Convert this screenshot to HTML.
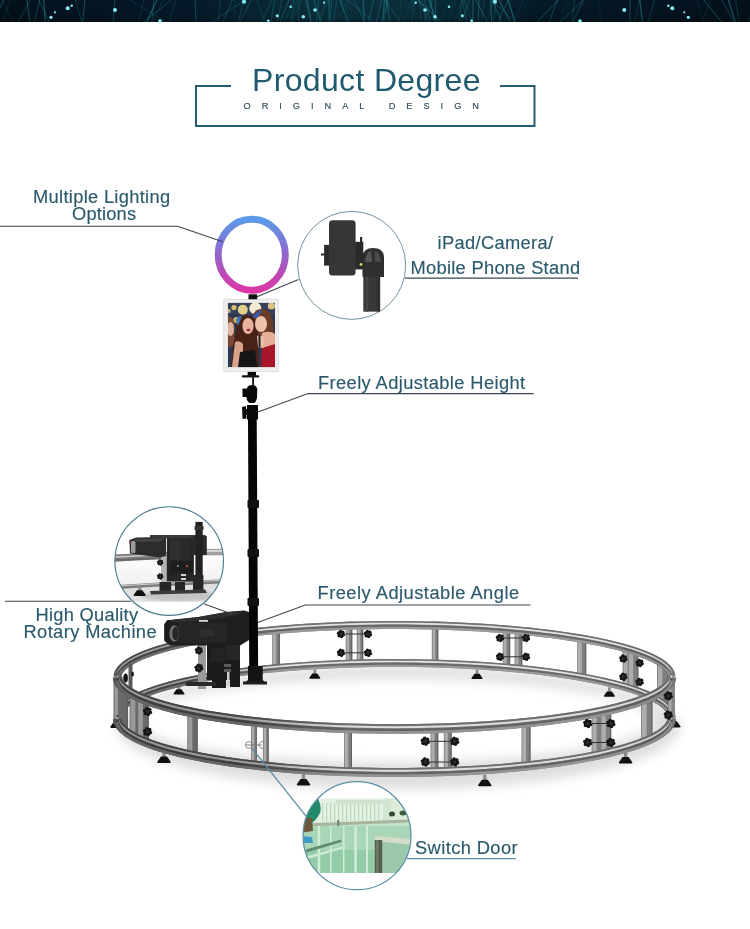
<!DOCTYPE html>
<html><head><meta charset="utf-8"><title>Product Degree</title>
<style>
html,body{margin:0;padding:0;background:#fff;}
body{width:750px;height:929px;overflow:hidden;position:relative;}
svg{position:absolute;left:0;top:0;display:block;}
text{font-family:"Liberation Sans",sans-serif;}
svg{will-change:transform;}
</style></head><body>
<svg width="750" height="929" viewBox="0 0 750 929">
<defs>
<linearGradient id="ringg" x1="0" y1="0" x2="0" y2="1">
<stop offset="0" stop-color="#5a9ae6"/><stop offset="0.45" stop-color="#8d6ad0"/><stop offset="1" stop-color="#dc35a6"/>
</linearGradient>
<linearGradient id="banh" x1="0" y1="0" x2="1" y2="0">
<stop offset="0" stop-color="#03111c"/><stop offset="0.25" stop-color="#05192a"/><stop offset="0.42" stop-color="#0a2f3c"/><stop offset="0.55" stop-color="#0a2f3c"/><stop offset="0.72" stop-color="#051a28"/><stop offset="1" stop-color="#03101b"/>
</linearGradient>
<linearGradient id="banv" x1="0" y1="0" x2="0" y2="1">
<stop offset="0" stop-color="#000" stop-opacity="0"/><stop offset="0.8" stop-color="#000" stop-opacity="0.1"/><stop offset="1" stop-color="#000" stop-opacity="0.35"/>
</linearGradient>
<filter id="blur6" x="-20%" y="-50%" width="140%" height="200%"><feGaussianBlur stdDeviation="6"/></filter>
<filter id="blur2"><feGaussianBlur stdDeviation="1.2"/></filter>
<filter id="blur05" x="-5%" y="-5%" width="110%" height="110%"><feGaussianBlur stdDeviation="0.55"/></filter>
<clipPath id="c1"><circle cx="351.7" cy="265.4" r="54"/></clipPath>
<clipPath id="c2"><circle cx="169.2" cy="561.1" r="54.3"/></clipPath>
<clipPath id="c3"><circle cx="357" cy="835.7" r="54"/></clipPath>
<linearGradient id="doorg" x1="0" y1="0" x2="0" y2="1">
<stop offset="0" stop-color="#e6f3e6"/><stop offset="0.45" stop-color="#b9dcc4"/><stop offset="1" stop-color="#8cc4a0"/>
</linearGradient>
</defs>
<rect width="750" height="929" fill="#fff"/>

<defs><linearGradient id="rgb0" gradientUnits="userSpaceOnUse" x1="110" y1="0" x2="680" y2="0"><stop offset="0" stop-color="#5c5c5c"/><stop offset="0.14" stop-color="#5c5c5c"/><stop offset="0.3" stop-color="#858585"/><stop offset="0.85" stop-color="#858585"/><stop offset="1" stop-color="#767676"/></linearGradient><linearGradient id="rgb1" gradientUnits="userSpaceOnUse" x1="110" y1="0" x2="680" y2="0"><stop offset="0" stop-color="#4a4a4a"/><stop offset="0.14" stop-color="#4a4a4a"/><stop offset="0.3" stop-color="#707070"/><stop offset="0.85" stop-color="#707070"/><stop offset="1" stop-color="#666666"/></linearGradient><linearGradient id="rgb2" gradientUnits="userSpaceOnUse" x1="110" y1="0" x2="680" y2="0"><stop offset="0" stop-color="#a0a0a0"/><stop offset="0.14" stop-color="#a0a0a0"/><stop offset="0.3" stop-color="#e4e4e4"/><stop offset="0.85" stop-color="#e4e4e4"/><stop offset="1" stop-color="#cccccc"/></linearGradient><linearGradient id="rgb3" gradientUnits="userSpaceOnUse" x1="110" y1="0" x2="680" y2="0"><stop offset="0" stop-color="#444444"/><stop offset="0.14" stop-color="#444444"/><stop offset="0.3" stop-color="#686868"/><stop offset="0.85" stop-color="#686868"/><stop offset="1" stop-color="#5c5c5c"/></linearGradient><linearGradient id="rgb4" gradientUnits="userSpaceOnUse" x1="110" y1="0" x2="680" y2="0"><stop offset="0" stop-color="#6e6e6e"/><stop offset="0.14" stop-color="#6e6e6e"/><stop offset="0.3" stop-color="#9a9a9a"/><stop offset="0.85" stop-color="#9a9a9a"/><stop offset="1" stop-color="#8a8a8a"/></linearGradient><linearGradient id="rgf0" gradientUnits="userSpaceOnUse" x1="110" y1="0" x2="680" y2="0"><stop offset="0" stop-color="#555555"/><stop offset="0.22" stop-color="#555555"/><stop offset="0.42" stop-color="#808080"/><stop offset="0.85" stop-color="#808080"/><stop offset="1" stop-color="#727272"/></linearGradient><linearGradient id="rgf1" gradientUnits="userSpaceOnUse" x1="110" y1="0" x2="680" y2="0"><stop offset="0" stop-color="#454545"/><stop offset="0.22" stop-color="#454545"/><stop offset="0.42" stop-color="#6e6e6e"/><stop offset="0.85" stop-color="#6e6e6e"/><stop offset="1" stop-color="#626262"/></linearGradient><linearGradient id="rgf2" gradientUnits="userSpaceOnUse" x1="110" y1="0" x2="680" y2="0"><stop offset="0" stop-color="#9a9a9a"/><stop offset="0.22" stop-color="#9a9a9a"/><stop offset="0.42" stop-color="#dedede"/><stop offset="0.85" stop-color="#dedede"/><stop offset="1" stop-color="#c8c8c8"/></linearGradient><linearGradient id="rgf3" gradientUnits="userSpaceOnUse" x1="110" y1="0" x2="680" y2="0"><stop offset="0" stop-color="#3e3e3e"/><stop offset="0.22" stop-color="#3e3e3e"/><stop offset="0.42" stop-color="#646464"/><stop offset="0.85" stop-color="#646464"/><stop offset="1" stop-color="#585858"/></linearGradient><linearGradient id="rgf4" gradientUnits="userSpaceOnUse" x1="110" y1="0" x2="680" y2="0"><stop offset="0" stop-color="#666666"/><stop offset="0.22" stop-color="#666666"/><stop offset="0.42" stop-color="#949494"/><stop offset="0.85" stop-color="#949494"/><stop offset="1" stop-color="#868686"/></linearGradient></defs>
<rect x="0" y="0" width="750" height="22" fill="url(#banh)"/>
<g><line x1="232.3" y1="0" x2="222.7" y2="22" stroke="#37c3c8" stroke-width="1.0" stroke-opacity="0.26"/><line x1="143.9" y1="0" x2="138.3" y2="22" stroke="#37c3c8" stroke-width="0.6" stroke-opacity="0.27"/><line x1="639.8" y1="0" x2="642.4" y2="22" stroke="#37c3c8" stroke-width="1.3" stroke-opacity="0.38"/><line x1="10.2" y1="0" x2="2.1" y2="22" stroke="#37c3c8" stroke-width="0.6" stroke-opacity="0.23"/><line x1="432.4" y1="0" x2="423.6" y2="22" stroke="#37c3c8" stroke-width="0.8" stroke-opacity="0.27"/><line x1="271.6" y1="0" x2="261.7" y2="22" stroke="#37c3c8" stroke-width="1.3" stroke-opacity="0.16"/><line x1="171.2" y1="0" x2="143.7" y2="22" stroke="#37c3c8" stroke-width="1.3" stroke-opacity="0.19"/><line x1="583.3" y1="0" x2="572.9" y2="22" stroke="#37c3c8" stroke-width="1.0" stroke-opacity="0.30"/><line x1="245.5" y1="0" x2="251.9" y2="22" stroke="#37c3c8" stroke-width="0.6" stroke-opacity="0.12"/><line x1="508.0" y1="0" x2="515.0" y2="22" stroke="#37c3c8" stroke-width="1.3" stroke-opacity="0.40"/><line x1="511.6" y1="0" x2="504.4" y2="22" stroke="#37c3c8" stroke-width="0.6" stroke-opacity="0.14"/><line x1="195.0" y1="0" x2="196.1" y2="22" stroke="#37c3c8" stroke-width="1.0" stroke-opacity="0.31"/><line x1="523.0" y1="0" x2="513.7" y2="22" stroke="#37c3c8" stroke-width="0.8" stroke-opacity="0.15"/><line x1="463.9" y1="0" x2="471.8" y2="22" stroke="#37c3c8" stroke-width="0.6" stroke-opacity="0.39"/><line x1="339.9" y1="0" x2="348.7" y2="22" stroke="#37c3c8" stroke-width="1.3" stroke-opacity="0.27"/><line x1="293.2" y1="0" x2="283.3" y2="22" stroke="#37c3c8" stroke-width="0.8" stroke-opacity="0.12"/><line x1="326.9" y1="0" x2="318.1" y2="22" stroke="#37c3c8" stroke-width="0.6" stroke-opacity="0.27"/><line x1="27.0" y1="0" x2="29.8" y2="22" stroke="#37c3c8" stroke-width="1.0" stroke-opacity="0.39"/><line x1="354.1" y1="0" x2="364.9" y2="22" stroke="#37c3c8" stroke-width="1.0" stroke-opacity="0.24"/><line x1="39.6" y1="0" x2="34.5" y2="22" stroke="#37c3c8" stroke-width="0.8" stroke-opacity="0.35"/><line x1="388.2" y1="0" x2="381.6" y2="22" stroke="#37c3c8" stroke-width="0.6" stroke-opacity="0.31"/><line x1="490.8" y1="0" x2="491.6" y2="22" stroke="#37c3c8" stroke-width="1.0" stroke-opacity="0.37"/><line x1="569.3" y1="0" x2="566.2" y2="22" stroke="#37c3c8" stroke-width="0.6" stroke-opacity="0.11"/><line x1="759.4" y1="0" x2="758.7" y2="22" stroke="#37c3c8" stroke-width="1.3" stroke-opacity="0.20"/><line x1="557.1" y1="0" x2="549.4" y2="22" stroke="#37c3c8" stroke-width="0.8" stroke-opacity="0.37"/><line x1="465.4" y1="0" x2="475.2" y2="22" stroke="#37c3c8" stroke-width="0.8" stroke-opacity="0.15"/><line x1="558.4" y1="0" x2="537.0" y2="22" stroke="#37c3c8" stroke-width="0.8" stroke-opacity="0.40"/><line x1="639.2" y1="0" x2="634.8" y2="22" stroke="#37c3c8" stroke-width="1.0" stroke-opacity="0.17"/><line x1="256.6" y1="0" x2="265.6" y2="22" stroke="#37c3c8" stroke-width="0.8" stroke-opacity="0.23"/><line x1="400.8" y1="0" x2="399.5" y2="22" stroke="#37c3c8" stroke-width="0.6" stroke-opacity="0.15"/><line x1="598.6" y1="0" x2="601.1" y2="22" stroke="#37c3c8" stroke-width="0.6" stroke-opacity="0.14"/><line x1="419.9" y1="0" x2="421.2" y2="22" stroke="#37c3c8" stroke-width="1.0" stroke-opacity="0.17"/><line x1="4.2" y1="0" x2="-6.5" y2="22" stroke="#37c3c8" stroke-width="0.6" stroke-opacity="0.37"/><line x1="329.0" y1="0" x2="329.3" y2="22" stroke="#37c3c8" stroke-width="1.3" stroke-opacity="0.31"/><line x1="381.6" y1="0" x2="376.2" y2="22" stroke="#37c3c8" stroke-width="1.0" stroke-opacity="0.26"/><line x1="307.5" y1="0" x2="311.1" y2="22" stroke="#37c3c8" stroke-width="0.8" stroke-opacity="0.23"/><line x1="696.6" y1="0" x2="704.3" y2="22" stroke="#37c3c8" stroke-width="0.8" stroke-opacity="0.14"/><line x1="753.7" y1="0" x2="748.9" y2="22" stroke="#37c3c8" stroke-width="0.8" stroke-opacity="0.25"/><line x1="387.6" y1="0" x2="383.8" y2="22" stroke="#37c3c8" stroke-width="0.6" stroke-opacity="0.32"/><line x1="243.8" y1="0" x2="238.3" y2="22" stroke="#37c3c8" stroke-width="1.0" stroke-opacity="0.26"/><line x1="384.9" y1="0" x2="400.4" y2="22" stroke="#37c3c8" stroke-width="0.6" stroke-opacity="0.39"/><line x1="703.8" y1="0" x2="721.6" y2="22" stroke="#37c3c8" stroke-width="1.0" stroke-opacity="0.35"/><line x1="298.8" y1="0" x2="298.7" y2="22" stroke="#37c3c8" stroke-width="1.0" stroke-opacity="0.20"/><line x1="314.5" y1="0" x2="320.9" y2="22" stroke="#37c3c8" stroke-width="0.6" stroke-opacity="0.34"/><line x1="462.6" y1="0" x2="454.3" y2="22" stroke="#37c3c8" stroke-width="1.3" stroke-opacity="0.10"/><line x1="163.1" y1="0" x2="153.0" y2="22" stroke="#37c3c8" stroke-width="1.0" stroke-opacity="0.16"/><line x1="479.2" y1="0" x2="478.1" y2="22" stroke="#37c3c8" stroke-width="1.0" stroke-opacity="0.30"/><line x1="251.1" y1="0" x2="240.0" y2="22" stroke="#37c3c8" stroke-width="0.8" stroke-opacity="0.32"/><line x1="386.5" y1="0" x2="389.9" y2="22" stroke="#37c3c8" stroke-width="1.3" stroke-opacity="0.30"/><line x1="412.2" y1="0" x2="402.7" y2="22" stroke="#37c3c8" stroke-width="0.8" stroke-opacity="0.16"/><line x1="297.8" y1="0" x2="289.7" y2="22" stroke="#37c3c8" stroke-width="1.0" stroke-opacity="0.12"/><line x1="318.9" y1="0" x2="316.4" y2="22" stroke="#37c3c8" stroke-width="1.0" stroke-opacity="0.25"/><line x1="455.0" y1="0" x2="448.2" y2="22" stroke="#37c3c8" stroke-width="0.6" stroke-opacity="0.18"/><line x1="220.7" y1="0" x2="218.2" y2="22" stroke="#37c3c8" stroke-width="0.8" stroke-opacity="0.24"/><line x1="289.1" y1="0" x2="279.9" y2="22" stroke="#37c3c8" stroke-width="0.8" stroke-opacity="0.39"/><line x1="491.0" y1="0" x2="515.5" y2="22" stroke="#37c3c8" stroke-width="0.8" stroke-opacity="0.29"/><line x1="430.5" y1="0" x2="434.4" y2="22" stroke="#37c3c8" stroke-width="0.8" stroke-opacity="0.34"/><line x1="38.9" y1="0" x2="49.3" y2="22" stroke="#37c3c8" stroke-width="1.3" stroke-opacity="0.21"/><line x1="422.4" y1="0" x2="426.2" y2="22" stroke="#37c3c8" stroke-width="0.6" stroke-opacity="0.25"/><line x1="340.1" y1="0" x2="365.3" y2="22" stroke="#37c3c8" stroke-width="0.6" stroke-opacity="0.13"/><line x1="342.9" y1="0" x2="352.0" y2="22" stroke="#37c3c8" stroke-width="0.6" stroke-opacity="0.19"/><line x1="469.7" y1="0" x2="462.0" y2="22" stroke="#37c3c8" stroke-width="1.0" stroke-opacity="0.18"/><line x1="473.1" y1="0" x2="472.8" y2="22" stroke="#37c3c8" stroke-width="0.6" stroke-opacity="0.39"/><line x1="346.4" y1="0" x2="355.1" y2="22" stroke="#37c3c8" stroke-width="0.6" stroke-opacity="0.16"/><line x1="728.4" y1="0" x2="735.3" y2="22" stroke="#37c3c8" stroke-width="1.3" stroke-opacity="0.39"/><line x1="30.4" y1="0" x2="18.3" y2="22" stroke="#37c3c8" stroke-width="1.0" stroke-opacity="0.21"/><line x1="363.8" y1="0" x2="363.6" y2="22" stroke="#37c3c8" stroke-width="1.0" stroke-opacity="0.24"/><line x1="274.6" y1="0" x2="270.9" y2="22" stroke="#37c3c8" stroke-width="1.3" stroke-opacity="0.20"/><line x1="447.2" y1="0" x2="442.4" y2="22" stroke="#37c3c8" stroke-width="0.6" stroke-opacity="0.11"/><line x1="484.3" y1="0" x2="481.4" y2="22" stroke="#37c3c8" stroke-width="1.0" stroke-opacity="0.19"/><line x1="418.9" y1="0" x2="428.6" y2="22" stroke="#37c3c8" stroke-width="0.8" stroke-opacity="0.22"/><line x1="492.0" y1="0" x2="501.6" y2="22" stroke="#37c3c8" stroke-width="1.3" stroke-opacity="0.14"/><line x1="306.0" y1="0" x2="311.2" y2="22" stroke="#37c3c8" stroke-width="1.3" stroke-opacity="0.30"/><line x1="501.4" y1="0" x2="499.1" y2="22" stroke="#37c3c8" stroke-width="0.8" stroke-opacity="0.15"/><line x1="336.9" y1="0" x2="333.5" y2="22" stroke="#37c3c8" stroke-width="0.8" stroke-opacity="0.26"/><line x1="43.8" y1="0" x2="45.3" y2="22" stroke="#37c3c8" stroke-width="1.3" stroke-opacity="0.37"/><line x1="435.2" y1="0" x2="435.8" y2="22" stroke="#37c3c8" stroke-width="0.8" stroke-opacity="0.34"/><line x1="281.5" y1="0" x2="277.5" y2="22" stroke="#37c3c8" stroke-width="0.6" stroke-opacity="0.34"/><line x1="349.2" y1="0" x2="334.6" y2="22" stroke="#37c3c8" stroke-width="0.6" stroke-opacity="0.15"/><line x1="340.4" y1="0" x2="346.5" y2="22" stroke="#37c3c8" stroke-width="0.6" stroke-opacity="0.17"/><line x1="492.9" y1="0" x2="487.5" y2="22" stroke="#37c3c8" stroke-width="0.6" stroke-opacity="0.29"/><line x1="734.3" y1="0" x2="740.5" y2="22" stroke="#37c3c8" stroke-width="1.0" stroke-opacity="0.10"/><line x1="413.1" y1="0" x2="416.2" y2="22" stroke="#37c3c8" stroke-width="0.8" stroke-opacity="0.12"/><line x1="373.6" y1="0" x2="368.4" y2="22" stroke="#37c3c8" stroke-width="1.0" stroke-opacity="0.30"/><line x1="153.7" y1="0" x2="152.0" y2="22" stroke="#37c3c8" stroke-width="0.8" stroke-opacity="0.30"/><line x1="654.6" y1="0" x2="648.1" y2="22" stroke="#37c3c8" stroke-width="0.8" stroke-opacity="0.33"/><line x1="157.0" y1="0" x2="146.8" y2="22" stroke="#37c3c8" stroke-width="1.3" stroke-opacity="0.39"/><line x1="362.9" y1="0" x2="364.9" y2="22" stroke="#37c3c8" stroke-width="0.6" stroke-opacity="0.38"/><line x1="84.9" y1="0" x2="82.7" y2="22" stroke="#37c3c8" stroke-width="1.0" stroke-opacity="0.37"/><line x1="574.5" y1="0" x2="571.9" y2="22" stroke="#37c3c8" stroke-width="1.0" stroke-opacity="0.21"/><line x1="328.4" y1="0" x2="319.0" y2="22" stroke="#37c3c8" stroke-width="0.6" stroke-opacity="0.23"/><line x1="424.5" y1="0" x2="430.3" y2="22" stroke="#37c3c8" stroke-width="1.3" stroke-opacity="0.19"/><line x1="331.5" y1="0" x2="330.4" y2="22" stroke="#37c3c8" stroke-width="0.8" stroke-opacity="0.29"/><line x1="2.9" y1="0" x2="12.3" y2="22" stroke="#37c3c8" stroke-width="0.6" stroke-opacity="0.18"/><line x1="469.8" y1="0" x2="460.8" y2="22" stroke="#37c3c8" stroke-width="0.6" stroke-opacity="0.18"/><line x1="347.3" y1="0" x2="374.3" y2="22" stroke="#37c3c8" stroke-width="0.8" stroke-opacity="0.34"/><line x1="721.8" y1="0" x2="733.9" y2="22" stroke="#37c3c8" stroke-width="0.8" stroke-opacity="0.35"/><line x1="461.9" y1="0" x2="459.0" y2="22" stroke="#37c3c8" stroke-width="0.6" stroke-opacity="0.33"/><line x1="384.6" y1="0" x2="382.7" y2="22" stroke="#37c3c8" stroke-width="1.3" stroke-opacity="0.29"/><line x1="417.6" y1="0" x2="441.2" y2="22" stroke="#37c3c8" stroke-width="1.0" stroke-opacity="0.40"/><line x1="475.9" y1="0" x2="487.1" y2="22" stroke="#37c3c8" stroke-width="0.8" stroke-opacity="0.39"/><line x1="508.2" y1="0" x2="497.9" y2="22" stroke="#37c3c8" stroke-width="1.0" stroke-opacity="0.27"/><line x1="175.8" y1="0" x2="169.0" y2="22" stroke="#37c3c8" stroke-width="1.0" stroke-opacity="0.17"/><line x1="234.3" y1="0" x2="234.7" y2="22" stroke="#37c3c8" stroke-width="0.6" stroke-opacity="0.17"/><line x1="710.6" y1="0" x2="702.2" y2="22" stroke="#37c3c8" stroke-width="0.8" stroke-opacity="0.16"/><line x1="736.0" y1="0" x2="738.5" y2="22" stroke="#37c3c8" stroke-width="1.0" stroke-opacity="0.17"/><line x1="245.4" y1="0" x2="211.5" y2="22" stroke="#37c3c8" stroke-width="0.8" stroke-opacity="0.32"/><line x1="301.3" y1="0" x2="291.9" y2="22" stroke="#37c3c8" stroke-width="1.3" stroke-opacity="0.11"/><line x1="413.9" y1="0" x2="411.7" y2="22" stroke="#37c3c8" stroke-width="0.6" stroke-opacity="0.27"/><line x1="499.0" y1="0" x2="510.1" y2="22" stroke="#37c3c8" stroke-width="1.3" stroke-opacity="0.30"/><line x1="428.9" y1="0" x2="436.9" y2="22" stroke="#37c3c8" stroke-width="1.0" stroke-opacity="0.40"/><line x1="492.0" y1="0" x2="502.0" y2="22" stroke="#37c3c8" stroke-width="0.8" stroke-opacity="0.23"/><line x1="313.2" y1="0" x2="321.7" y2="22" stroke="#37c3c8" stroke-width="0.8" stroke-opacity="0.24"/><line x1="75.3" y1="0" x2="81.9" y2="22" stroke="#37c3c8" stroke-width="1.0" stroke-opacity="0.22"/><line x1="567.2" y1="0" x2="559.8" y2="22" stroke="#37c3c8" stroke-width="0.6" stroke-opacity="0.15"/><line x1="129.8" y1="0" x2="166.1" y2="22" stroke="#37c3c8" stroke-width="0.6" stroke-opacity="0.24"/><line x1="462.2" y1="0" x2="466.7" y2="22" stroke="#37c3c8" stroke-width="0.8" stroke-opacity="0.31"/><line x1="473.1" y1="0" x2="472.5" y2="22" stroke="#37c3c8" stroke-width="0.6" stroke-opacity="0.27"/><line x1="293.8" y1="0" x2="285.5" y2="22" stroke="#37c3c8" stroke-width="0.8" stroke-opacity="0.17"/><line x1="583.5" y1="0" x2="560.1" y2="22" stroke="#37c3c8" stroke-width="1.0" stroke-opacity="0.28"/><line x1="495.7" y1="0" x2="493.4" y2="22" stroke="#37c3c8" stroke-width="1.3" stroke-opacity="0.21"/><line x1="114.8" y1="0" x2="113.2" y2="22" stroke="#37c3c8" stroke-width="1.3" stroke-opacity="0.23"/><line x1="294.3" y1="0" x2="291.4" y2="22" stroke="#37c3c8" stroke-width="0.6" stroke-opacity="0.34"/><line x1="2.9" y1="0" x2="-6.2" y2="22" stroke="#37c3c8" stroke-width="0.6" stroke-opacity="0.32"/><line x1="630.1" y1="0" x2="629.8" y2="22" stroke="#37c3c8" stroke-width="0.8" stroke-opacity="0.39"/></g>
<rect x="0" y="0" width="750" height="22" fill="url(#banv)"/>
<g fill="#86eef5"><circle cx="67.7" cy="8.3" r="2.0"/><circle cx="71.7" cy="5.7" r="1.2"/><circle cx="55.0" cy="12.3" r="1.1"/><circle cx="51.0" cy="17.3" r="1.6"/><circle cx="115.0" cy="10.0" r="2.0"/><circle cx="160.0" cy="21.0" r="1.8"/><circle cx="244.0" cy="1.7" r="2.0"/><circle cx="290.7" cy="6.7" r="1.3"/><circle cx="277.3" cy="15.7" r="1.5"/><circle cx="315.0" cy="10.0" r="1.8"/><circle cx="303.3" cy="16.7" r="1.8"/><circle cx="324.0" cy="2.7" r="1.1"/><circle cx="268.3" cy="20.7" r="1.3"/><circle cx="415.7" cy="2.7" r="1.2"/><circle cx="425.0" cy="10.0" r="1.8"/><circle cx="435.0" cy="16.7" r="1.8"/><circle cx="449.0" cy="6.7" r="1.3"/><circle cx="462.3" cy="15.7" r="1.5"/><circle cx="471.7" cy="20.7" r="1.3"/><circle cx="495.0" cy="1.7" r="2.0"/><circle cx="624.3" cy="10.0" r="2.0"/><circle cx="668.3" cy="5.7" r="1.2"/><circle cx="672.3" cy="8.3" r="2.0"/><circle cx="684.3" cy="12.3" r="1.1"/><circle cx="688.3" cy="17.3" r="1.6"/><circle cx="580.0" cy="21.0" r="1.8"/></g>
<g stroke="#245c70" stroke-width="2" fill="none"><path d="M231,86 H196 V126 H534.5 V86 H500"/></g>
<text x="252" y="91.4" font-size="32" fill="#1f5a6e" textLength="228.53" lengthAdjust="spacing">Product Degree</text>
<text x="243.5" y="108.8" font-size="9.2" fill="#304c5a" stroke="#304c5a" stroke-width="0.15" textLength="235.42" lengthAdjust="spacing">ORIGINAL DESIGN</text>
<ellipse cx="398.5" cy="727.5" rx="281.0" ry="62.0" fill="#000" opacity="0.13" filter="url(#blur6)"/>
<ellipse cx="394.5" cy="720.5" rx="259.0" ry="42.0" fill="#fff" filter="url(#blur6)"/>
<rect x="313.4" y="669.4" width="2.8" height="4.5" fill="#8c8c8c"/><path d="M309.2,678.0 Q309.2,678.8 310.2,678.8 L319.4,678.8 Q320.4,678.8 320.4,678.0 L317.3,673.6 L312.3,673.6 Z" fill="#111"/>
<rect x="475.6" y="669.6" width="2.8" height="4.5" fill="#8c8c8c"/><path d="M471.4,678.2 Q471.4,679.0 472.4,679.0 L481.6,679.0 Q482.6,679.0 482.6,678.2 L479.5,673.8 L474.5,673.8 Z" fill="#111"/>
<rect x="608.0" y="687.3" width="2.8" height="4.5" fill="#8c8c8c"/><path d="M603.8,695.9 Q603.8,696.7 604.8,696.7 L614.0,696.7 Q615.0,696.7 615.0,695.9 L611.9,691.5 L606.9,691.5 Z" fill="#111"/>
<rect x="177.6" y="685.1" width="2.8" height="4.5" fill="#8c8c8c"/><path d="M173.4,693.7 Q173.4,694.5 174.4,694.5 L183.6,694.5 Q184.6,694.5 184.6,693.7 L181.5,689.3 L176.5,689.3 Z" fill="#111"/>
<rect x="272.2" y="630.0" width="7.6" height="38.2" fill="#7e7e7e"/><rect x="273.0" y="630.0" width="3.2" height="38.2" fill="#adadad"/><rect x="278.8" y="630.0" width="1.0" height="38.2" fill="#5e5e5e"/>
<rect x="345.7" y="625.7" width="6.5" height="38.0" fill="#7e7e7e"/><rect x="346.5" y="625.7" width="2.7" height="38.0" fill="#adadad"/><rect x="351.3" y="625.7" width="1.0" height="38.0" fill="#5e5e5e"/>
<rect x="356.8" y="625.4" width="6.4" height="38.0" fill="#7e7e7e"/><rect x="357.6" y="625.4" width="2.7" height="38.0" fill="#adadad"/><rect x="362.2" y="625.4" width="1.0" height="38.0" fill="#5e5e5e"/>
<rect x="431.8" y="625.6" width="6.5" height="38.0" fill="#7e7e7e"/><rect x="432.6" y="625.6" width="2.7" height="38.0" fill="#adadad"/><rect x="437.2" y="625.6" width="1.0" height="38.0" fill="#5e5e5e"/>
<rect x="502.7" y="629.4" width="7.5" height="38.2" fill="#7e7e7e"/><rect x="503.5" y="629.4" width="3.1" height="38.2" fill="#adadad"/><rect x="509.1" y="629.4" width="1.0" height="38.2" fill="#5e5e5e"/>
<rect x="514.6" y="630.5" width="7.7" height="38.2" fill="#7e7e7e"/><rect x="515.4" y="630.5" width="3.2" height="38.2" fill="#adadad"/><rect x="521.2" y="630.5" width="1.0" height="38.2" fill="#5e5e5e"/>
<rect x="577.2" y="638.7" width="9.0" height="38.5" fill="#7e7e7e"/><rect x="578.0" y="638.7" width="3.8" height="38.5" fill="#adadad"/><rect x="585.2" y="638.7" width="1.0" height="38.5" fill="#5e5e5e"/>
<rect x="622.6" y="648.9" width="10.1" height="38.9" fill="#7e7e7e"/><rect x="623.4" y="648.9" width="4.2" height="38.9" fill="#adadad"/><rect x="631.6" y="648.9" width="1.0" height="38.9" fill="#5e5e5e"/>
<rect x="628.1" y="650.6" width="10.2" height="39.0" fill="#7e7e7e"/><rect x="628.9" y="650.6" width="4.3" height="39.0" fill="#adadad"/><rect x="637.3" y="650.6" width="1.0" height="39.0" fill="#5e5e5e"/>
<rect x="657.0" y="663.9" width="11.0" height="39.5" fill="#7e7e7e"/><rect x="657.8" y="663.9" width="4.6" height="39.5" fill="#adadad"/><rect x="667.0" y="663.9" width="1.0" height="39.5" fill="#5e5e5e"/>
<path d="M117.5,717.0 L117.7,714.9 L118.4,712.8 L119.4,710.7 L120.9,708.6 L122.8,706.5 L125.2,704.4 L127.9,702.3 L131.1,700.3 L134.6,698.3 L138.6,696.3 L142.9,694.4 L147.7,692.5 L152.8,690.6 L158.3,688.8 L164.2,687.0 L170.4,685.3 L177.0,683.6 L183.9,681.9 L191.1,680.3 L198.6,678.8 L206.5,677.3 L214.6,675.9 L223.0,674.6 L231.7,673.3 L240.6,672.1 L249.8,671.0 L259.2,669.9 L268.7,668.9 L278.5,668.0 L288.5,667.1 L298.6,666.3 L308.9,665.6 L319.3,665.0 L329.8,664.5 L340.5,664.0 L351.2,663.7 L361.9,663.4 L372.8,663.2 L383.6,663.0 L394.5,663.0 L405.4,663.0 L416.2,663.2 L427.1,663.4 L437.8,663.7 L448.5,664.0 L459.2,664.5 L469.7,665.0 L480.1,665.6 L490.4,666.3 L500.5,667.1 L510.5,668.0 L520.3,668.9 L529.8,669.9 L539.2,671.0 L548.4,672.1 L557.3,673.3 L566.0,674.6 L574.4,675.9 L582.5,677.3 L590.4,678.8 L597.9,680.3 L605.1,681.9 L612.0,683.6 L618.6,685.3 L624.8,687.0 L630.7,688.8 L636.2,690.6 L641.3,692.5 L646.1,694.4 L650.4,696.3 L654.4,698.3 L657.9,700.3 L661.1,702.3 L663.8,704.4 L666.2,706.5 L668.1,708.6 L669.6,710.7 L670.6,712.8 L671.3,714.9 L671.5,717.0" fill="none" stroke="url(#rgb0)" stroke-width="7.80"/><path d="M117.5,714.0 L117.7,711.9 L118.4,709.7 L119.4,707.6 L120.9,705.5 L122.8,703.4 L125.2,701.4 L127.9,699.3 L131.1,697.3 L134.6,695.3 L138.6,693.3 L142.9,691.4 L147.7,689.5 L152.8,687.6 L158.3,685.8 L164.2,684.0 L170.4,682.2 L177.0,680.5 L183.9,678.9 L191.1,677.3 L198.6,675.8 L206.5,674.3 L214.6,672.9 L223.0,671.6 L231.7,670.3 L240.6,669.1 L249.8,667.9 L259.2,666.9 L268.7,665.9 L278.5,664.9 L288.5,664.1 L298.6,663.3 L308.9,662.6 L319.3,662.0 L329.8,661.5 L340.5,661.0 L351.2,660.6 L361.9,660.4 L372.8,660.1 L383.6,660.0 L394.5,660.0 L405.4,660.0 L416.2,660.1 L427.1,660.4 L437.8,660.6 L448.5,661.0 L459.2,661.5 L469.7,662.0 L480.1,662.6 L490.4,663.3 L500.5,664.1 L510.5,664.9 L520.3,665.9 L529.8,666.9 L539.2,667.9 L548.4,669.1 L557.3,670.3 L566.0,671.6 L574.4,672.9 L582.5,674.3 L590.4,675.8 L597.9,677.3 L605.1,678.9 L612.0,680.5 L618.6,682.2 L624.8,684.0 L630.7,685.8 L636.2,687.6 L641.3,689.5 L646.1,691.4 L650.4,693.3 L654.4,695.3 L657.9,697.3 L661.1,699.3 L663.8,701.4 L666.2,703.4 L668.1,705.5 L669.6,707.6 L670.6,709.7 L671.3,711.9 L671.5,714.0" fill="none" stroke="url(#rgb1)" stroke-width="1.75"/><path d="M117.5,715.5 L117.7,713.4 L118.4,711.3 L119.4,709.2 L120.9,707.1 L122.8,705.0 L125.2,702.9 L127.9,700.9 L131.1,698.9 L134.6,696.8 L138.6,694.9 L142.9,692.9 L147.7,691.0 L152.8,689.2 L158.3,687.3 L164.2,685.5 L170.4,683.8 L177.0,682.1 L183.9,680.5 L191.1,678.9 L198.6,677.4 L206.5,675.9 L214.6,674.5 L223.0,673.1 L231.7,671.9 L240.6,670.6 L249.8,669.5 L259.2,668.4 L268.7,667.4 L278.5,666.5 L288.5,665.6 L298.6,664.9 L308.9,664.2 L319.3,663.6 L329.8,663.0 L340.5,662.6 L351.2,662.2 L361.9,661.9 L372.8,661.7 L383.6,661.6 L394.5,661.5 L405.4,661.6 L416.2,661.7 L427.1,661.9 L437.8,662.2 L448.5,662.6 L459.2,663.0 L469.7,663.6 L480.1,664.2 L490.4,664.9 L500.5,665.6 L510.5,666.5 L520.3,667.4 L529.8,668.4 L539.2,669.5 L548.4,670.6 L557.3,671.9 L566.0,673.1 L574.4,674.5 L582.5,675.9 L590.4,677.4 L597.9,678.9 L605.1,680.5 L612.0,682.1 L618.6,683.8 L624.8,685.5 L630.7,687.3 L636.2,689.2 L641.3,691.0 L646.1,692.9 L650.4,694.9 L654.4,696.8 L657.9,698.9 L661.1,700.9 L663.8,702.9 L666.2,705.0 L668.1,707.1 L669.6,709.2 L670.6,711.3 L671.3,713.4 L671.5,715.5" fill="none" stroke="url(#rgb2)" stroke-width="1.66"/><path d="M117.5,717.8 L117.7,715.7 L118.4,713.5 L119.4,711.4 L120.9,709.3 L122.8,707.2 L125.2,705.2 L127.9,703.1 L131.1,701.1 L134.6,699.1 L138.6,697.1 L142.9,695.2 L147.7,693.3 L152.8,691.4 L158.3,689.6 L164.2,687.8 L170.4,686.0 L177.0,684.3 L183.9,682.7 L191.1,681.1 L198.6,679.6 L206.5,678.1 L214.6,676.7 L223.0,675.4 L231.7,674.1 L240.6,672.9 L249.8,671.7 L259.2,670.7 L268.7,669.7 L278.5,668.7 L288.5,667.9 L298.6,667.1 L308.9,666.4 L319.3,665.8 L329.8,665.3 L340.5,664.8 L351.2,664.4 L361.9,664.2 L372.8,663.9 L383.6,663.8 L394.5,663.8 L405.4,663.8 L416.2,663.9 L427.1,664.2 L437.8,664.4 L448.5,664.8 L459.2,665.3 L469.7,665.8 L480.1,666.4 L490.4,667.1 L500.5,667.9 L510.5,668.7 L520.3,669.7 L529.8,670.7 L539.2,671.7 L548.4,672.9 L557.3,674.1 L566.0,675.4 L574.4,676.7 L582.5,678.1 L590.4,679.6 L597.9,681.1 L605.1,682.7 L612.0,684.3 L618.6,686.0 L624.8,687.8 L630.7,689.6 L636.2,691.4 L641.3,693.3 L646.1,695.2 L650.4,697.1 L654.4,699.1 L657.9,701.1 L661.1,703.1 L663.8,705.2 L666.2,707.2 L668.1,709.3 L669.6,711.4 L670.6,713.5 L671.3,715.7 L671.5,717.8" fill="none" stroke="url(#rgb3)" stroke-width="2.15"/><path d="M117.5,719.8 L117.7,717.7 L118.4,715.6 L119.4,713.5 L120.9,711.4 L122.8,709.3 L125.2,707.2 L127.9,705.2 L131.1,703.1 L134.6,701.1 L138.6,699.2 L142.9,697.2 L147.7,695.3 L152.8,693.4 L158.3,691.6 L164.2,689.8 L170.4,688.1 L177.0,686.4 L183.9,684.8 L191.1,683.2 L198.6,681.6 L206.5,680.2 L214.6,678.8 L223.0,677.4 L231.7,676.1 L240.6,674.9 L249.8,673.8 L259.2,672.7 L268.7,671.7 L278.5,670.8 L288.5,669.9 L298.6,669.2 L308.9,668.5 L319.3,667.9 L329.8,667.3 L340.5,666.9 L351.2,666.5 L361.9,666.2 L372.8,666.0 L383.6,665.9 L394.5,665.8 L405.4,665.9 L416.2,666.0 L427.1,666.2 L437.8,666.5 L448.5,666.9 L459.2,667.3 L469.7,667.9 L480.1,668.5 L490.4,669.2 L500.5,669.9 L510.5,670.8 L520.3,671.7 L529.8,672.7 L539.2,673.8 L548.4,674.9 L557.3,676.1 L566.0,677.4 L574.4,678.8 L582.5,680.2 L590.4,681.6 L597.9,683.2 L605.1,684.8 L612.0,686.4 L618.6,688.1 L624.8,689.8 L630.7,691.6 L636.2,693.4 L641.3,695.3 L646.1,697.2 L650.4,699.2 L654.4,701.1 L657.9,703.1 L661.1,705.2 L663.8,707.2 L666.2,709.3 L668.1,711.4 L669.6,713.5 L670.6,715.6 L671.3,717.7 L671.5,719.8" fill="none" stroke="url(#rgb4)" stroke-width="2.15"/>
<path d="M117.5,677.0 L117.7,675.0 L118.4,672.9 L119.4,670.9 L120.9,668.9 L122.8,666.9 L125.2,664.9 L127.9,662.9 L131.1,660.9 L134.6,659.0 L138.6,657.1 L142.9,655.2 L147.7,653.4 L152.8,651.6 L158.3,649.8 L164.2,648.1 L170.4,646.4 L177.0,644.8 L183.9,643.2 L191.1,641.7 L198.6,640.2 L206.5,638.8 L214.6,637.5 L223.0,636.2 L231.7,634.9 L240.6,633.8 L249.8,632.7 L259.2,631.6 L268.7,630.7 L278.5,629.8 L288.5,629.0 L298.6,628.2 L308.9,627.5 L319.3,627.0 L329.8,626.4 L340.5,626.0 L351.2,625.6 L361.9,625.4 L372.8,625.2 L383.6,625.0 L394.5,625.0 L405.4,625.0 L416.2,625.2 L427.1,625.4 L437.8,625.6 L448.5,626.0 L459.2,626.4 L469.7,627.0 L480.1,627.5 L490.4,628.2 L500.5,629.0 L510.5,629.8 L520.3,630.7 L529.8,631.6 L539.2,632.7 L548.4,633.8 L557.3,634.9 L566.0,636.2 L574.4,637.5 L582.5,638.8 L590.4,640.2 L597.9,641.7 L605.1,643.2 L612.0,644.8 L618.6,646.4 L624.8,648.1 L630.7,649.8 L636.2,651.6 L641.3,653.4 L646.1,655.2 L650.4,657.1 L654.4,659.0 L657.9,660.9 L661.1,662.9 L663.8,664.9 L666.2,666.9 L668.1,668.9 L669.6,670.9 L670.6,672.9 L671.3,675.0 L671.5,677.0" fill="none" stroke="url(#rgb0)" stroke-width="8.00"/><path d="M117.5,673.9 L117.7,671.9 L118.4,669.8 L119.4,667.8 L120.9,665.8 L122.8,663.8 L125.2,661.8 L127.9,659.8 L131.1,657.8 L134.6,655.9 L138.6,654.0 L142.9,652.1 L147.7,650.3 L152.8,648.5 L158.3,646.7 L164.2,645.0 L170.4,643.3 L177.0,641.7 L183.9,640.1 L191.1,638.6 L198.6,637.1 L206.5,635.7 L214.6,634.4 L223.0,633.1 L231.7,631.8 L240.6,630.7 L249.8,629.6 L259.2,628.5 L268.7,627.6 L278.5,626.7 L288.5,625.9 L298.6,625.1 L308.9,624.4 L319.3,623.9 L329.8,623.3 L340.5,622.9 L351.2,622.5 L361.9,622.3 L372.8,622.1 L383.6,621.9 L394.5,621.9 L405.4,621.9 L416.2,622.1 L427.1,622.3 L437.8,622.5 L448.5,622.9 L459.2,623.3 L469.7,623.9 L480.1,624.4 L490.4,625.1 L500.5,625.9 L510.5,626.7 L520.3,627.6 L529.8,628.5 L539.2,629.6 L548.4,630.7 L557.3,631.8 L566.0,633.1 L574.4,634.4 L582.5,635.7 L590.4,637.1 L597.9,638.6 L605.1,640.1 L612.0,641.7 L618.6,643.3 L624.8,645.0 L630.7,646.7 L636.2,648.5 L641.3,650.3 L646.1,652.1 L650.4,654.0 L654.4,655.9 L657.9,657.8 L661.1,659.8 L663.8,661.8 L666.2,663.8 L668.1,665.8 L669.6,667.8 L670.6,669.8 L671.3,671.9 L671.5,673.9" fill="none" stroke="url(#rgb1)" stroke-width="1.80"/><path d="M117.5,675.5 L117.7,673.5 L118.4,671.4 L119.4,669.4 L120.9,667.4 L122.8,665.4 L125.2,663.4 L127.9,661.4 L131.1,659.4 L134.6,657.5 L138.6,655.6 L142.9,653.7 L147.7,651.9 L152.8,650.1 L158.3,648.3 L164.2,646.6 L170.4,644.9 L177.0,643.3 L183.9,641.7 L191.1,640.2 L198.6,638.7 L206.5,637.3 L214.6,636.0 L223.0,634.7 L231.7,633.4 L240.6,632.3 L249.8,631.2 L259.2,630.1 L268.7,629.2 L278.5,628.3 L288.5,627.5 L298.6,626.7 L308.9,626.0 L319.3,625.5 L329.8,624.9 L340.5,624.5 L351.2,624.1 L361.9,623.9 L372.8,623.7 L383.6,623.5 L394.5,623.5 L405.4,623.5 L416.2,623.7 L427.1,623.9 L437.8,624.1 L448.5,624.5 L459.2,624.9 L469.7,625.5 L480.1,626.0 L490.4,626.7 L500.5,627.5 L510.5,628.3 L520.3,629.2 L529.8,630.1 L539.2,631.2 L548.4,632.3 L557.3,633.4 L566.0,634.7 L574.4,636.0 L582.5,637.3 L590.4,638.7 L597.9,640.2 L605.1,641.7 L612.0,643.3 L618.6,644.9 L624.8,646.6 L630.7,648.3 L636.2,650.1 L641.3,651.9 L646.1,653.7 L650.4,655.6 L654.4,657.5 L657.9,659.4 L661.1,661.4 L663.8,663.4 L666.2,665.4 L668.1,667.4 L669.6,669.4 L670.6,671.4 L671.3,673.5 L671.5,675.5" fill="none" stroke="url(#rgb2)" stroke-width="1.70"/><path d="M117.5,677.8 L117.7,675.8 L118.4,673.7 L119.4,671.7 L120.9,669.7 L122.8,667.7 L125.2,665.7 L127.9,663.7 L131.1,661.7 L134.6,659.8 L138.6,657.9 L142.9,656.0 L147.7,654.2 L152.8,652.4 L158.3,650.6 L164.2,648.9 L170.4,647.2 L177.0,645.6 L183.9,644.0 L191.1,642.5 L198.6,641.0 L206.5,639.6 L214.6,638.3 L223.0,637.0 L231.7,635.7 L240.6,634.6 L249.8,633.5 L259.2,632.4 L268.7,631.5 L278.5,630.6 L288.5,629.8 L298.6,629.0 L308.9,628.3 L319.3,627.8 L329.8,627.2 L340.5,626.8 L351.2,626.4 L361.9,626.2 L372.8,626.0 L383.6,625.8 L394.5,625.8 L405.4,625.8 L416.2,626.0 L427.1,626.2 L437.8,626.4 L448.5,626.8 L459.2,627.2 L469.7,627.8 L480.1,628.3 L490.4,629.0 L500.5,629.8 L510.5,630.6 L520.3,631.5 L529.8,632.4 L539.2,633.5 L548.4,634.6 L557.3,635.7 L566.0,637.0 L574.4,638.3 L582.5,639.6 L590.4,641.0 L597.9,642.5 L605.1,644.0 L612.0,645.6 L618.6,647.2 L624.8,648.9 L630.7,650.6 L636.2,652.4 L641.3,654.2 L646.1,656.0 L650.4,657.9 L654.4,659.8 L657.9,661.7 L661.1,663.7 L663.8,665.7 L666.2,667.7 L668.1,669.7 L669.6,671.7 L670.6,673.7 L671.3,675.8 L671.5,677.8" fill="none" stroke="url(#rgb3)" stroke-width="2.20"/><path d="M117.5,679.9 L117.7,677.9 L118.4,675.8 L119.4,673.8 L120.9,671.8 L122.8,669.8 L125.2,667.8 L127.9,665.8 L131.1,663.8 L134.6,661.9 L138.6,660.0 L142.9,658.1 L147.7,656.3 L152.8,654.5 L158.3,652.7 L164.2,651.0 L170.4,649.3 L177.0,647.7 L183.9,646.1 L191.1,644.6 L198.6,643.1 L206.5,641.7 L214.6,640.4 L223.0,639.1 L231.7,637.8 L240.6,636.7 L249.8,635.6 L259.2,634.5 L268.7,633.6 L278.5,632.7 L288.5,631.9 L298.6,631.1 L308.9,630.4 L319.3,629.9 L329.8,629.3 L340.5,628.9 L351.2,628.5 L361.9,628.3 L372.8,628.1 L383.6,627.9 L394.5,627.9 L405.4,627.9 L416.2,628.1 L427.1,628.3 L437.8,628.5 L448.5,628.9 L459.2,629.3 L469.7,629.9 L480.1,630.4 L490.4,631.1 L500.5,631.9 L510.5,632.7 L520.3,633.6 L529.8,634.5 L539.2,635.6 L548.4,636.7 L557.3,637.8 L566.0,639.1 L574.4,640.4 L582.5,641.7 L590.4,643.1 L597.9,644.6 L605.1,646.1 L612.0,647.7 L618.6,649.3 L624.8,651.0 L630.7,652.7 L636.2,654.5 L641.3,656.3 L646.1,658.1 L650.4,660.0 L654.4,661.9 L657.9,663.8 L661.1,665.8 L663.8,667.8 L666.2,669.8 L668.1,671.8 L669.6,673.8 L670.6,675.8 L671.3,677.9 L671.5,679.9" fill="none" stroke="url(#rgb4)" stroke-width="2.20"/>
<g fill="#161616"><circle cx="341.0" cy="634.0" r="3.18"/><circle cx="343.55" cy="634.79" r="1.63"/><circle cx="341.59" cy="636.60" r="1.63"/><circle cx="339.04" cy="635.81" r="1.63"/><circle cx="338.45" cy="633.21" r="1.63"/><circle cx="340.41" cy="631.40" r="1.63"/><circle cx="342.96" cy="632.19" r="1.63"/></g><circle cx="341.0" cy="634.0" r="1.50" fill="#2e2e2e"/>
<g fill="#161616"><circle cx="341.0" cy="652.8" r="3.18"/><circle cx="343.55" cy="653.59" r="1.63"/><circle cx="341.59" cy="655.40" r="1.63"/><circle cx="339.04" cy="654.61" r="1.63"/><circle cx="338.45" cy="652.01" r="1.63"/><circle cx="340.41" cy="650.20" r="1.63"/><circle cx="342.96" cy="650.99" r="1.63"/></g><circle cx="341.0" cy="652.8" r="1.50" fill="#2e2e2e"/>
<g fill="#161616"><circle cx="368.0" cy="634.0" r="3.18"/><circle cx="370.55" cy="634.79" r="1.63"/><circle cx="368.59" cy="636.60" r="1.63"/><circle cx="366.04" cy="635.81" r="1.63"/><circle cx="365.45" cy="633.21" r="1.63"/><circle cx="367.41" cy="631.40" r="1.63"/><circle cx="369.96" cy="632.19" r="1.63"/></g><circle cx="368.0" cy="634.0" r="1.50" fill="#2e2e2e"/>
<g fill="#161616"><circle cx="368.0" cy="652.8" r="3.18"/><circle cx="370.55" cy="653.59" r="1.63"/><circle cx="368.59" cy="655.40" r="1.63"/><circle cx="366.04" cy="654.61" r="1.63"/><circle cx="365.45" cy="652.01" r="1.63"/><circle cx="367.41" cy="650.20" r="1.63"/><circle cx="369.96" cy="650.99" r="1.63"/></g><circle cx="368.0" cy="652.8" r="1.50" fill="#2e2e2e"/>
<g fill="#161616"><circle cx="500.0" cy="638.0" r="3.18"/><circle cx="502.55" cy="638.79" r="1.63"/><circle cx="500.59" cy="640.60" r="1.63"/><circle cx="498.04" cy="639.81" r="1.63"/><circle cx="497.45" cy="637.21" r="1.63"/><circle cx="499.41" cy="635.40" r="1.63"/><circle cx="501.96" cy="636.19" r="1.63"/></g><circle cx="500.0" cy="638.0" r="1.50" fill="#2e2e2e"/>
<g fill="#161616"><circle cx="500.0" cy="656.8" r="3.18"/><circle cx="502.55" cy="657.59" r="1.63"/><circle cx="500.59" cy="659.40" r="1.63"/><circle cx="498.04" cy="658.61" r="1.63"/><circle cx="497.45" cy="656.01" r="1.63"/><circle cx="499.41" cy="654.20" r="1.63"/><circle cx="501.96" cy="654.99" r="1.63"/></g><circle cx="500.0" cy="656.8" r="1.50" fill="#2e2e2e"/>
<g fill="#161616"><circle cx="526.0" cy="638.0" r="3.18"/><circle cx="528.55" cy="638.79" r="1.63"/><circle cx="526.59" cy="640.60" r="1.63"/><circle cx="524.04" cy="639.81" r="1.63"/><circle cx="523.45" cy="637.21" r="1.63"/><circle cx="525.41" cy="635.40" r="1.63"/><circle cx="527.96" cy="636.19" r="1.63"/></g><circle cx="526.0" cy="638.0" r="1.50" fill="#2e2e2e"/>
<g fill="#161616"><circle cx="526.0" cy="656.8" r="3.18"/><circle cx="528.55" cy="657.59" r="1.63"/><circle cx="526.59" cy="659.40" r="1.63"/><circle cx="524.04" cy="658.61" r="1.63"/><circle cx="523.45" cy="656.01" r="1.63"/><circle cx="525.41" cy="654.20" r="1.63"/><circle cx="527.96" cy="654.99" r="1.63"/></g><circle cx="526.0" cy="656.8" r="1.50" fill="#2e2e2e"/>
<g fill="#161616"><circle cx="623.3" cy="658.6" r="3.18"/><circle cx="625.85" cy="659.39" r="1.63"/><circle cx="623.89" cy="661.20" r="1.63"/><circle cx="621.34" cy="660.41" r="1.63"/><circle cx="620.75" cy="657.81" r="1.63"/><circle cx="622.71" cy="656.00" r="1.63"/><circle cx="625.26" cy="656.79" r="1.63"/></g><circle cx="623.3" cy="658.6" r="1.50" fill="#2e2e2e"/>
<g fill="#161616"><circle cx="623.3" cy="676.8" r="3.18"/><circle cx="625.85" cy="677.59" r="1.63"/><circle cx="623.89" cy="679.40" r="1.63"/><circle cx="621.34" cy="678.61" r="1.63"/><circle cx="620.75" cy="676.01" r="1.63"/><circle cx="622.71" cy="674.20" r="1.63"/><circle cx="625.26" cy="674.99" r="1.63"/></g><circle cx="623.3" cy="676.8" r="1.50" fill="#2e2e2e"/>
<g fill="#161616"><circle cx="639.7" cy="663.0" r="3.18"/><circle cx="642.25" cy="663.79" r="1.63"/><circle cx="640.29" cy="665.60" r="1.63"/><circle cx="637.74" cy="664.81" r="1.63"/><circle cx="637.15" cy="662.21" r="1.63"/><circle cx="639.11" cy="660.40" r="1.63"/><circle cx="641.66" cy="661.19" r="1.63"/></g><circle cx="639.7" cy="663.0" r="1.50" fill="#2e2e2e"/>
<g fill="#161616"><circle cx="639.7" cy="682.0" r="3.18"/><circle cx="642.25" cy="682.79" r="1.63"/><circle cx="640.29" cy="684.60" r="1.63"/><circle cx="637.74" cy="683.81" r="1.63"/><circle cx="637.15" cy="681.21" r="1.63"/><circle cx="639.11" cy="679.40" r="1.63"/><circle cx="641.66" cy="680.19" r="1.63"/></g><circle cx="639.7" cy="682.0" r="1.50" fill="#2e2e2e"/>
<line x1="345" y1="634.0" x2="364" y2="634.0" stroke="#333" stroke-width="1"/>
<line x1="345" y1="652.8" x2="364" y2="652.8" stroke="#333" stroke-width="1"/>
<line x1="504" y1="638.0" x2="522" y2="638.0" stroke="#333" stroke-width="1"/>
<line x1="504" y1="656.8" x2="522" y2="656.8" stroke="#333" stroke-width="1"/>
<g>
<rect x="198" y="645" width="8" height="44" fill="#9a9a9a"/>
<path d="M164.4,624 L167,620.2 L198,617 L226,612 L244,610.5 L249,612 L249,640 L240,645.5 L170,645.5 L164.4,641 Z" fill="#1f1f1f"/>
<path d="M167,620.5 L198,617.3 L226,612.3 L244,610.8 L240,614 L226,617 L200,621 L178,623 Z" fill="#2e2e2e"/>
<rect x="178" y="623" width="48" height="20" fill="#262626"/>
<path d="M198,630 L212,629 L214,636 L200,637 Z" fill="#303030"/>
<rect x="199" y="620" width="9" height="1.8" fill="#d8d8d8"/>
<ellipse cx="174.2" cy="633.5" rx="4.8" ry="8.2" fill="#707070"/>
<ellipse cx="175.5" cy="633.5" rx="3.2" ry="6.8" fill="#262626"/>
<rect x="164.4" y="624" width="4" height="16" fill="#1a1a1a"/>
<rect x="207" y="644" width="33" height="36" fill="#1c1c1c"/>
<rect x="226" y="645" width="14" height="15" fill="#262626"/>
<rect x="211" y="648" width="14" height="14" fill="#232323"/>
<rect x="224" y="664" width="7" height="3" fill="#5a5a5a"/><rect x="224" y="669" width="7" height="3" fill="#5a5a5a"/>
<rect x="212" y="675" width="14" height="13" fill="#1a1a1a"/>
<rect x="227" y="672" width="2.5" height="14" fill="#cfcfcf"/>
<rect x="230" y="675" width="10" height="12" fill="#1a1a1a"/>
<rect x="186" y="682" width="30" height="4" fill="#2a2a2a"/>
<g fill="#161616"><circle cx="198.9" cy="650.5" r="3.11"/><circle cx="201.39" cy="651.27" r="1.60"/><circle cx="199.48" cy="653.04" r="1.60"/><circle cx="196.99" cy="652.27" r="1.60"/><circle cx="196.41" cy="649.73" r="1.60"/><circle cx="198.32" cy="647.96" r="1.60"/><circle cx="200.81" cy="648.73" r="1.60"/></g><circle cx="198.9" cy="650.5" r="1.47" fill="#2e2e2e"/>
<g fill="#161616"><circle cx="198.9" cy="668.0" r="3.40"/><circle cx="201.62" cy="668.84" r="1.75"/><circle cx="199.53" cy="670.78" r="1.75"/><circle cx="196.81" cy="669.94" r="1.75"/><circle cx="196.18" cy="667.16" r="1.75"/><circle cx="198.27" cy="665.22" r="1.75"/><circle cx="200.99" cy="666.06" r="1.75"/></g><circle cx="198.9" cy="668.0" r="1.61" fill="#2e2e2e"/>
</g>
<path d="M248,419 L256.7,419 L258.2,682 L249.3,682 Z" fill="#050505"/>
<rect x="247.5" y="500" width="11.5" height="8" rx="1" fill="#111"/>
<rect x="247.5" y="549" width="11.5" height="8" rx="1" fill="#111"/>
<rect x="247.5" y="598" width="11.5" height="8" rx="1" fill="#111"/>
<path d="M248,666 L262.7,666 L262.7,680 L266,683 L244,683 L248,680 Z" fill="#141414"/>
<rect x="243" y="681.5" width="24" height="3" fill="#1e1e1e"/>
<rect x="247" y="405" width="11" height="14.5" fill="#080808"/>
<path d="M242,407 L246,406 L246.5,418.5 L242.5,419 Z" fill="#0a0a0a"/>
<rect x="244" y="409" width="3" height="6" fill="#0a0a0a"/>
<path d="M247,388 Q248,385 252,385 Q256.5,385 257.3,389 L257,398 Q256,402 254.5,403 L249.5,403 Q246.5,401 246.5,397 Z" fill="#070707"/>
<rect x="242.5" y="388.5" width="5.5" height="8.5" rx="0.8" fill="#0a0a0a"/>
<rect x="252.2" y="376" width="1.8" height="10" fill="#111"/>
<rect x="241.8" y="375.3" width="17.5" height="2.3" rx="1.1" fill="#111"/>
<rect x="247.6" y="371.3" width="8.4" height="4.5" fill="#0a0a0a"/>
<rect x="223.8" y="299.2" width="54.4" height="72.3" fill="#efefef" stroke="#d9d9d9" stroke-width="0.8"/>
<clipPath id="tabc"><rect x="227.8" y="302.8" width="47.2" height="64.4"/></clipPath>
<g clip-path="url(#tabc)"><g filter="url(#blur05)">
<rect x="227.8" y="302.8" width="47.2" height="64.4" fill="#2c3852"/>
<rect x="227.8" y="302.8" width="47.2" height="12" fill="#34405a"/>
<circle cx="234" cy="307.6" r="2.6" fill="#d8c070"/>
<circle cx="242.8" cy="309.8" r="5" fill="#e2cf8c"/>
<circle cx="255.3" cy="308.3" r="6" fill="#f2ead0"/>
<circle cx="271.4" cy="306" r="3.6" fill="#d9c37e"/>
<circle cx="236.2" cy="320" r="3" fill="#cdb66a"/>
<circle cx="228.5" cy="311" r="2.2" fill="#bfae78"/>
<path d="M227.8,316 Q233,316 234.5,324 L234,345 L227.8,348 Z" fill="#7a4a38"/>
<ellipse cx="230.5" cy="329" rx="3.5" ry="7" fill="#e2b3a2"/>
<path d="M252,322 Q252,309 262,309 Q272,310 273,322 L275,345 L265,352 L255,340 Z" fill="#6a3a28"/>
<path d="M253,318 Q255,311 262,310 L258,318 Z" fill="#3a5aa8"/>
<path d="M236,330 Q236,316 247,315 Q257,316 258,330 L259,367.2 L231,367.2 L233,345 Z" fill="#4a2418"/>
<path d="M236,320 Q238,316 242,316 L238,326 Z" fill="#3a78b8"/>
<ellipse cx="248" cy="326" rx="5.6" ry="8" fill="#e8b4a0"/>
<ellipse cx="261" cy="324" rx="6" ry="8" fill="#efc2aa"/>
<ellipse cx="248.5" cy="330" rx="2" ry="1.2" fill="#a03040"/>
<path d="M262,333 Q270,330 275,334 L275,367.2 L262,367.2 Z" fill="#e6b098"/>
<path d="M262,348 L275,344 L275,367.2 L261,367.2 Z" fill="#a8182a"/>
<path d="M257,336 Q262,334 264,338 L263,348 L258,347 Z" fill="#ecc0aa"/>
<rect x="258.5" y="335" width="2" height="12" fill="#222"/>
<path d="M235,342 Q240,340 243,344 L243,367.2 L232,367.2 Z" fill="#d9a28a"/>
<path d="M240,352 L255,350 L257,367.2 L238,367.2 Z" fill="#141414"/>
</g></g>
<rect x="248.5" y="294.3" width="8.6" height="5" fill="#111"/>
<ellipse cx="251.75" cy="254.75" rx="33.6" ry="35.5" fill="none" stroke="url(#ringg)" stroke-width="6.9"/>
<rect x="162.3" y="751.5" width="3.4" height="5.5" fill="#8c8c8c"/><path d="M157.2,762.0 Q157.2,763.0 158.4,763.0 L169.6,763.0 Q170.8,763.0 170.8,762.0 L167.0,756.6 L161.0,756.6 Z" fill="#111"/>
<rect x="301.8" y="774.0" width="3.4" height="5.5" fill="#8c8c8c"/><path d="M296.7,784.5 Q296.7,785.5 297.9,785.5 L309.1,785.5 Q310.3,785.5 310.3,784.5 L306.5,779.1 L300.5,779.1 Z" fill="#111"/>
<rect x="483.1" y="774.7" width="3.4" height="5.5" fill="#8c8c8c"/><path d="M478.0,785.2 Q478.0,786.2 479.2,786.2 L490.4,786.2 Q491.6,786.2 491.6,785.2 L487.8,779.8 L481.8,779.8 Z" fill="#111"/>
<rect x="623.9" y="752.0" width="3.4" height="5.5" fill="#8c8c8c"/><path d="M618.8,762.5 Q618.8,763.5 620.0,763.5 L631.2,763.5 Q632.4,763.5 632.4,762.5 L628.6,757.1 L622.6,757.1 Z" fill="#111"/>
<rect x="115.3" y="716.5" width="3.4" height="5.5" fill="#8c8c8c"/><path d="M110.2,727.0 Q110.2,728.0 111.4,728.0 L122.6,728.0 Q123.8,728.0 123.8,727.0 L120.0,721.6 L114.0,721.6 Z" fill="#111"/>
<rect x="672.1" y="716.1" width="3.4" height="5.5" fill="#8c8c8c"/><path d="M667.0,726.6 Q667.0,727.6 668.2,727.6 L679.4,727.6 Q680.6,727.6 680.6,726.6 L676.8,721.2 L670.8,721.2 Z" fill="#111"/>
<rect x="116.1" y="686.3" width="11.9" height="41.9" fill="#686868"/><rect x="116.9" y="686.3" width="5.0" height="41.9" fill="#999999"/><rect x="126.9" y="686.3" width="1.0" height="41.9" fill="#5e5e5e"/>
<rect x="129.7" y="695.4" width="11.6" height="42.2" fill="#686868"/><rect x="130.5" y="695.4" width="4.9" height="42.2" fill="#999999"/><rect x="140.3" y="695.4" width="1.0" height="42.2" fill="#5e5e5e"/>
<rect x="137.3" y="698.8" width="11.4" height="42.3" fill="#686868"/><rect x="138.1" y="698.8" width="4.8" height="42.3" fill="#999999"/><rect x="147.7" y="698.8" width="1.0" height="42.3" fill="#5e5e5e"/>
<rect x="187.3" y="712.6" width="10.3" height="42.9" fill="#686868"/><rect x="188.1" y="712.6" width="4.3" height="42.9" fill="#999999"/><rect x="196.7" y="712.6" width="1.0" height="42.9" fill="#5e5e5e"/>
<rect x="251.0" y="721.8" width="5.8" height="43.2" fill="#7e7e7e"/><rect x="251.8" y="721.8" width="2.4" height="43.2" fill="#adadad"/><rect x="255.8" y="721.8" width="1.0" height="43.2" fill="#5e5e5e"/>
<rect x="262.9" y="723.0" width="5.8" height="43.3" fill="#7e7e7e"/><rect x="263.7" y="723.0" width="2.4" height="43.3" fill="#adadad"/><rect x="267.7" y="723.0" width="1.0" height="43.3" fill="#5e5e5e"/>
<rect x="344.1" y="728.3" width="7.8" height="43.5" fill="#7e7e7e"/><rect x="344.9" y="728.3" width="3.3" height="43.5" fill="#adadad"/><rect x="350.9" y="728.3" width="1.0" height="43.5" fill="#5e5e5e"/>
<rect x="430.5" y="728.5" width="7.7" height="43.5" fill="#7e7e7e"/><rect x="431.3" y="728.5" width="3.3" height="43.5" fill="#adadad"/><rect x="437.3" y="728.5" width="1.0" height="43.5" fill="#5e5e5e"/>
<rect x="443.8" y="728.0" width="7.9" height="43.5" fill="#7e7e7e"/><rect x="444.6" y="728.0" width="3.3" height="43.5" fill="#adadad"/><rect x="450.6" y="728.0" width="1.0" height="43.5" fill="#5e5e5e"/>
<rect x="521.5" y="722.8" width="9.0" height="43.3" fill="#7e7e7e"/><rect x="522.3" y="722.8" width="3.8" height="43.3" fill="#adadad"/><rect x="529.5" y="722.8" width="1.0" height="43.3" fill="#5e5e5e"/>
<rect x="591.6" y="712.5" width="10.3" height="42.9" fill="#7e7e7e"/><rect x="592.4" y="712.5" width="4.3" height="42.9" fill="#adadad"/><rect x="601.0" y="712.5" width="1.0" height="42.9" fill="#5e5e5e"/>
<rect x="600.6" y="710.6" width="10.5" height="42.8" fill="#7e7e7e"/><rect x="601.4" y="710.6" width="4.4" height="42.8" fill="#adadad"/><rect x="610.2" y="710.6" width="1.0" height="42.8" fill="#5e5e5e"/>
<rect x="641.0" y="698.5" width="11.4" height="42.3" fill="#7e7e7e"/><rect x="641.8" y="698.5" width="4.8" height="42.3" fill="#adadad"/><rect x="651.4" y="698.5" width="1.0" height="42.3" fill="#5e5e5e"/>
<rect x="128.5" y="664" width="4" height="26" fill="#5a5a5a"/>
<ellipse cx="125.6" cy="678" rx="2.3" ry="4.6" fill="#141414"/>
<ellipse cx="132.6" cy="674" rx="1.3" ry="2.6" fill="#141414"/>
<rect x="113.5" y="680" width="9" height="44" fill="#6c6c6c"/><rect x="114.5" y="680" width="3.5" height="44" fill="#9a9a9a"/>
<rect x="668" y="680" width="7" height="44" fill="#858585"/><rect x="669" y="680" width="2.5" height="44" fill="#a8a8a8"/>
<path d="M671.5,718.5 L671.3,720.6 L670.6,722.7 L669.6,724.8 L668.1,726.9 L666.2,729.0 L663.8,731.1 L661.1,733.2 L657.9,735.2 L654.4,737.2 L650.4,739.2 L646.1,741.1 L641.3,743.0 L636.2,744.9 L630.7,746.7 L624.8,748.5 L618.6,750.2 L612.0,751.9 L605.1,753.6 L597.9,755.2 L590.4,756.7 L582.5,758.2 L574.4,759.6 L566.0,760.9 L557.3,762.2 L548.4,763.4 L539.2,764.5 L529.8,765.6 L520.3,766.6 L510.5,767.5 L500.5,768.4 L490.4,769.2 L480.1,769.9 L469.7,770.5 L459.2,771.0 L448.5,771.5 L437.8,771.8 L427.1,772.1 L416.2,772.3 L405.4,772.5 L394.5,772.5 L383.6,772.5 L372.8,772.3 L361.9,772.1 L351.2,771.8 L340.5,771.5 L329.8,771.0 L319.3,770.5 L308.9,769.9 L298.6,769.2 L288.5,768.4 L278.5,767.5 L268.7,766.6 L259.2,765.6 L249.8,764.5 L240.6,763.4 L231.7,762.2 L223.0,760.9 L214.6,759.6 L206.5,758.2 L198.6,756.7 L191.1,755.2 L183.9,753.6 L177.0,751.9 L170.4,750.2 L164.2,748.5 L158.3,746.7 L152.8,744.9 L147.7,743.0 L142.9,741.1 L138.6,739.2 L134.6,737.2 L131.1,735.2 L127.9,733.2 L125.2,731.1 L122.8,729.0 L120.9,726.9 L119.4,724.8 L118.4,722.7 L117.7,720.6 L117.5,718.5" fill="none" stroke="url(#rgf0)" stroke-width="9.00"/><path d="M671.5,715.0 L671.3,717.1 L670.6,719.2 L669.6,721.4 L668.1,723.5 L666.2,725.5 L663.8,727.6 L661.1,729.7 L657.9,731.7 L654.4,733.7 L650.4,735.7 L646.1,737.6 L641.3,739.5 L636.2,741.4 L630.7,743.2 L624.8,745.0 L618.6,746.8 L612.0,748.4 L605.1,750.1 L597.9,751.7 L590.4,753.2 L582.5,754.7 L574.4,756.1 L566.0,757.4 L557.3,758.7 L548.4,759.9 L539.2,761.1 L529.8,762.1 L520.3,763.1 L510.5,764.1 L500.5,764.9 L490.4,765.7 L480.1,766.4 L469.7,767.0 L459.2,767.5 L448.5,768.0 L437.8,768.3 L427.1,768.6 L416.2,768.8 L405.4,769.0 L394.5,769.0 L383.6,769.0 L372.8,768.8 L361.9,768.6 L351.2,768.3 L340.5,768.0 L329.8,767.5 L319.3,767.0 L308.9,766.4 L298.6,765.7 L288.5,764.9 L278.5,764.1 L268.7,763.1 L259.2,762.1 L249.8,761.1 L240.6,759.9 L231.7,758.7 L223.0,757.4 L214.6,756.1 L206.5,754.7 L198.6,753.2 L191.1,751.7 L183.9,750.1 L177.0,748.4 L170.4,746.8 L164.2,745.0 L158.3,743.2 L152.8,741.4 L147.7,739.5 L142.9,737.6 L138.6,735.7 L134.6,733.7 L131.1,731.7 L127.9,729.7 L125.2,727.6 L122.8,725.5 L120.9,723.5 L119.4,721.4 L118.4,719.2 L117.7,717.1 L117.5,715.0" fill="none" stroke="url(#rgf1)" stroke-width="2.02"/><path d="M671.5,716.8 L671.3,718.9 L670.6,721.0 L669.6,723.2 L668.1,725.3 L666.2,727.3 L663.8,729.4 L661.1,731.5 L657.9,733.5 L654.4,735.5 L650.4,737.5 L646.1,739.4 L641.3,741.3 L636.2,743.2 L630.7,745.0 L624.8,746.8 L618.6,748.6 L612.0,750.2 L605.1,751.9 L597.9,753.5 L590.4,755.0 L582.5,756.5 L574.4,757.9 L566.0,759.2 L557.3,760.5 L548.4,761.7 L539.2,762.9 L529.8,763.9 L520.3,764.9 L510.5,765.9 L500.5,766.7 L490.4,767.5 L480.1,768.2 L469.7,768.8 L459.2,769.3 L448.5,769.8 L437.8,770.1 L427.1,770.4 L416.2,770.6 L405.4,770.8 L394.5,770.8 L383.6,770.8 L372.8,770.6 L361.9,770.4 L351.2,770.1 L340.5,769.8 L329.8,769.3 L319.3,768.8 L308.9,768.2 L298.6,767.5 L288.5,766.7 L278.5,765.9 L268.7,764.9 L259.2,763.9 L249.8,762.9 L240.6,761.7 L231.7,760.5 L223.0,759.2 L214.6,757.9 L206.5,756.5 L198.6,755.0 L191.1,753.5 L183.9,751.9 L177.0,750.2 L170.4,748.6 L164.2,746.8 L158.3,745.0 L152.8,743.2 L147.7,741.3 L142.9,739.4 L138.6,737.5 L134.6,735.5 L131.1,733.5 L127.9,731.5 L125.2,729.4 L122.8,727.3 L120.9,725.3 L119.4,723.2 L118.4,721.0 L117.7,718.9 L117.5,716.8" fill="none" stroke="url(#rgf2)" stroke-width="1.91"/><path d="M671.5,719.4 L671.3,721.5 L670.6,723.6 L669.6,725.7 L668.1,727.8 L666.2,729.9 L663.8,732.0 L661.1,734.1 L657.9,736.1 L654.4,738.1 L650.4,740.1 L646.1,742.0 L641.3,743.9 L636.2,745.8 L630.7,747.6 L624.8,749.4 L618.6,751.1 L612.0,752.8 L605.1,754.5 L597.9,756.1 L590.4,757.6 L582.5,759.1 L574.4,760.5 L566.0,761.8 L557.3,763.1 L548.4,764.3 L539.2,765.4 L529.8,766.5 L520.3,767.5 L510.5,768.4 L500.5,769.3 L490.4,770.1 L480.1,770.8 L469.7,771.4 L459.2,771.9 L448.5,772.4 L437.8,772.7 L427.1,773.0 L416.2,773.2 L405.4,773.4 L394.5,773.4 L383.6,773.4 L372.8,773.2 L361.9,773.0 L351.2,772.7 L340.5,772.4 L329.8,771.9 L319.3,771.4 L308.9,770.8 L298.6,770.1 L288.5,769.3 L278.5,768.4 L268.7,767.5 L259.2,766.5 L249.8,765.4 L240.6,764.3 L231.7,763.1 L223.0,761.8 L214.6,760.5 L206.5,759.1 L198.6,757.6 L191.1,756.1 L183.9,754.5 L177.0,752.8 L170.4,751.1 L164.2,749.4 L158.3,747.6 L152.8,745.8 L147.7,743.9 L142.9,742.0 L138.6,740.1 L134.6,738.1 L131.1,736.1 L127.9,734.1 L125.2,732.0 L122.8,729.9 L120.9,727.8 L119.4,725.7 L118.4,723.6 L117.7,721.5 L117.5,719.4" fill="none" stroke="url(#rgf3)" stroke-width="2.48"/><path d="M671.5,721.8 L671.3,723.9 L670.6,726.0 L669.6,728.1 L668.1,730.2 L666.2,732.3 L663.8,734.4 L661.1,736.4 L657.9,738.4 L654.4,740.5 L650.4,742.4 L646.1,744.4 L641.3,746.3 L636.2,748.1 L630.7,750.0 L624.8,751.8 L618.6,753.5 L612.0,755.2 L605.1,756.8 L597.9,758.4 L590.4,759.9 L582.5,761.4 L574.4,762.8 L566.0,764.2 L557.3,765.4 L548.4,766.7 L539.2,767.8 L529.8,768.9 L520.3,769.9 L510.5,770.8 L500.5,771.7 L490.4,772.4 L480.1,773.1 L469.7,773.7 L459.2,774.3 L448.5,774.7 L437.8,775.1 L427.1,775.4 L416.2,775.6 L405.4,775.7 L394.5,775.8 L383.6,775.7 L372.8,775.6 L361.9,775.4 L351.2,775.1 L340.5,774.7 L329.8,774.3 L319.3,773.7 L308.9,773.1 L298.6,772.4 L288.5,771.7 L278.5,770.8 L268.7,769.9 L259.2,768.9 L249.8,767.8 L240.6,766.7 L231.7,765.4 L223.0,764.2 L214.6,762.8 L206.5,761.4 L198.6,759.9 L191.1,758.4 L183.9,756.8 L177.0,755.2 L170.4,753.5 L164.2,751.8 L158.3,750.0 L152.8,748.1 L147.7,746.3 L142.9,744.4 L138.6,742.4 L134.6,740.5 L131.1,738.4 L127.9,736.4 L125.2,734.4 L122.8,732.3 L120.9,730.2 L119.4,728.1 L118.4,726.0 L117.7,723.9 L117.5,721.8" fill="none" stroke="url(#rgf4)" stroke-width="2.48"/>
<path d="M671.5,677.0 L671.3,679.0 L670.6,681.1 L669.6,683.1 L668.1,685.1 L666.2,687.1 L663.8,689.1 L661.1,691.1 L657.9,693.1 L654.4,695.0 L650.4,696.9 L646.1,698.8 L641.3,700.6 L636.2,702.4 L630.7,704.2 L624.8,705.9 L618.6,707.6 L612.0,709.2 L605.1,710.8 L597.9,712.3 L590.4,713.8 L582.5,715.2 L574.4,716.5 L566.0,717.8 L557.3,719.1 L548.4,720.2 L539.2,721.3 L529.8,722.4 L520.3,723.3 L510.5,724.2 L500.5,725.0 L490.4,725.8 L480.1,726.5 L469.7,727.0 L459.2,727.6 L448.5,728.0 L437.8,728.4 L427.1,728.6 L416.2,728.8 L405.4,729.0 L394.5,729.0 L383.6,729.0 L372.8,728.8 L361.9,728.6 L351.2,728.4 L340.5,728.0 L329.8,727.6 L319.3,727.0 L308.9,726.5 L298.6,725.8 L288.5,725.0 L278.5,724.2 L268.7,723.3 L259.2,722.4 L249.8,721.3 L240.6,720.2 L231.7,719.1 L223.0,717.8 L214.6,716.5 L206.5,715.2 L198.6,713.8 L191.1,712.3 L183.9,710.8 L177.0,709.2 L170.4,707.6 L164.2,705.9 L158.3,704.2 L152.8,702.4 L147.7,700.6 L142.9,698.8 L138.6,696.9 L134.6,695.0 L131.1,693.1 L127.9,691.1 L125.2,689.1 L122.8,687.1 L120.9,685.1 L119.4,683.1 L118.4,681.1 L117.7,679.0 L117.5,677.0" fill="none" stroke="url(#rgf0)" stroke-width="9.60"/><path d="M671.5,673.3 L671.3,675.3 L670.6,677.4 L669.6,679.4 L668.1,681.4 L666.2,683.4 L663.8,685.4 L661.1,687.4 L657.9,689.3 L654.4,691.3 L650.4,693.2 L646.1,695.1 L641.3,696.9 L636.2,698.7 L630.7,700.4 L624.8,702.2 L618.6,703.8 L612.0,705.5 L605.1,707.1 L597.9,708.6 L590.4,710.0 L582.5,711.5 L574.4,712.8 L566.0,714.1 L557.3,715.3 L548.4,716.5 L539.2,717.6 L529.8,718.6 L520.3,719.6 L510.5,720.5 L500.5,721.3 L490.4,722.1 L480.1,722.7 L469.7,723.3 L459.2,723.8 L448.5,724.3 L437.8,724.6 L427.1,724.9 L416.2,725.1 L405.4,725.2 L394.5,725.3 L383.6,725.2 L372.8,725.1 L361.9,724.9 L351.2,724.6 L340.5,724.3 L329.8,723.8 L319.3,723.3 L308.9,722.7 L298.6,722.1 L288.5,721.3 L278.5,720.5 L268.7,719.6 L259.2,718.6 L249.8,717.6 L240.6,716.5 L231.7,715.3 L223.0,714.1 L214.6,712.8 L206.5,711.5 L198.6,710.0 L191.1,708.6 L183.9,707.1 L177.0,705.5 L170.4,703.8 L164.2,702.2 L158.3,700.4 L152.8,698.7 L147.7,696.9 L142.9,695.1 L138.6,693.2 L134.6,691.3 L131.1,689.3 L127.9,687.4 L125.2,685.4 L122.8,683.4 L120.9,681.4 L119.4,679.4 L118.4,677.4 L117.7,675.3 L117.5,673.3" fill="none" stroke="url(#rgf1)" stroke-width="2.16"/><path d="M671.5,675.2 L671.3,677.2 L670.6,679.3 L669.6,681.3 L668.1,683.3 L666.2,685.3 L663.8,687.3 L661.1,689.3 L657.9,691.3 L654.4,693.2 L650.4,695.1 L646.1,697.0 L641.3,698.8 L636.2,700.6 L630.7,702.4 L624.8,704.1 L618.6,705.8 L612.0,707.4 L605.1,709.0 L597.9,710.5 L590.4,712.0 L582.5,713.4 L574.4,714.7 L566.0,716.0 L557.3,717.3 L548.4,718.4 L539.2,719.5 L529.8,720.6 L520.3,721.5 L510.5,722.4 L500.5,723.2 L490.4,724.0 L480.1,724.7 L469.7,725.2 L459.2,725.8 L448.5,726.2 L437.8,726.6 L427.1,726.8 L416.2,727.0 L405.4,727.2 L394.5,727.2 L383.6,727.2 L372.8,727.0 L361.9,726.8 L351.2,726.6 L340.5,726.2 L329.8,725.8 L319.3,725.2 L308.9,724.7 L298.6,724.0 L288.5,723.2 L278.5,722.4 L268.7,721.5 L259.2,720.6 L249.8,719.5 L240.6,718.4 L231.7,717.3 L223.0,716.0 L214.6,714.7 L206.5,713.4 L198.6,712.0 L191.1,710.5 L183.9,709.0 L177.0,707.4 L170.4,705.8 L164.2,704.1 L158.3,702.4 L152.8,700.6 L147.7,698.8 L142.9,697.0 L138.6,695.1 L134.6,693.2 L131.1,691.3 L127.9,689.3 L125.2,687.3 L122.8,685.3 L120.9,683.3 L119.4,681.3 L118.4,679.3 L117.7,677.2 L117.5,675.2" fill="none" stroke="url(#rgf2)" stroke-width="2.04"/><path d="M671.5,678.0 L671.3,680.0 L670.6,682.0 L669.6,684.1 L668.1,686.1 L666.2,688.1 L663.8,690.1 L661.1,692.1 L657.9,694.0 L654.4,696.0 L650.4,697.9 L646.1,699.7 L641.3,701.6 L636.2,703.4 L630.7,705.1 L624.8,706.8 L618.6,708.5 L612.0,710.2 L605.1,711.7 L597.9,713.3 L590.4,714.7 L582.5,716.1 L574.4,717.5 L566.0,718.8 L557.3,720.0 L548.4,721.2 L539.2,722.3 L529.8,723.3 L520.3,724.3 L510.5,725.2 L500.5,726.0 L490.4,726.7 L480.1,727.4 L469.7,728.0 L459.2,728.5 L448.5,729.0 L437.8,729.3 L427.1,729.6 L416.2,729.8 L405.4,729.9 L394.5,730.0 L383.6,729.9 L372.8,729.8 L361.9,729.6 L351.2,729.3 L340.5,729.0 L329.8,728.5 L319.3,728.0 L308.9,727.4 L298.6,726.7 L288.5,726.0 L278.5,725.2 L268.7,724.3 L259.2,723.3 L249.8,722.3 L240.6,721.2 L231.7,720.0 L223.0,718.8 L214.6,717.5 L206.5,716.1 L198.6,714.7 L191.1,713.3 L183.9,711.7 L177.0,710.2 L170.4,708.5 L164.2,706.8 L158.3,705.1 L152.8,703.4 L147.7,701.6 L142.9,699.7 L138.6,697.9 L134.6,696.0 L131.1,694.0 L127.9,692.1 L125.2,690.1 L122.8,688.1 L120.9,686.1 L119.4,684.1 L118.4,682.0 L117.7,680.0 L117.5,678.0" fill="none" stroke="url(#rgf3)" stroke-width="2.64"/><path d="M671.5,680.5 L671.3,682.5 L670.6,684.6 L669.6,686.6 L668.1,688.6 L666.2,690.6 L663.8,692.6 L661.1,694.6 L657.9,696.5 L654.4,698.5 L650.4,700.4 L646.1,702.3 L641.3,704.1 L636.2,705.9 L630.7,707.6 L624.8,709.4 L618.6,711.0 L612.0,712.7 L605.1,714.3 L597.9,715.8 L590.4,717.2 L582.5,718.7 L574.4,720.0 L566.0,721.3 L557.3,722.5 L548.4,723.7 L539.2,724.8 L529.8,725.8 L520.3,726.8 L510.5,727.7 L500.5,728.5 L490.4,729.3 L480.1,729.9 L469.7,730.5 L459.2,731.0 L448.5,731.5 L437.8,731.8 L427.1,732.1 L416.2,732.3 L405.4,732.4 L394.5,732.5 L383.6,732.4 L372.8,732.3 L361.9,732.1 L351.2,731.8 L340.5,731.5 L329.8,731.0 L319.3,730.5 L308.9,729.9 L298.6,729.3 L288.5,728.5 L278.5,727.7 L268.7,726.8 L259.2,725.8 L249.8,724.8 L240.6,723.7 L231.7,722.5 L223.0,721.3 L214.6,720.0 L206.5,718.7 L198.6,717.2 L191.1,715.8 L183.9,714.3 L177.0,712.7 L170.4,711.0 L164.2,709.4 L158.3,707.6 L152.8,705.9 L147.7,704.1 L142.9,702.3 L138.6,700.4 L134.6,698.5 L131.1,696.5 L127.9,694.6 L125.2,692.6 L122.8,690.6 L120.9,688.6 L119.4,686.6 L118.4,684.6 L117.7,682.5 L117.5,680.5" fill="none" stroke="url(#rgf4)" stroke-width="2.64"/>
<g fill="#161616"><circle cx="147.5" cy="711.5" r="3.55"/><circle cx="150.34" cy="712.38" r="1.82"/><circle cx="148.16" cy="714.40" r="1.82"/><circle cx="145.32" cy="713.52" r="1.82"/><circle cx="144.66" cy="710.62" r="1.82"/><circle cx="146.84" cy="708.60" r="1.82"/><circle cx="149.68" cy="709.48" r="1.82"/></g><circle cx="147.5" cy="711.5" r="1.68" fill="#2e2e2e"/>
<g fill="#161616"><circle cx="147.5" cy="731.7" r="3.55"/><circle cx="150.34" cy="732.58" r="1.82"/><circle cx="148.16" cy="734.60" r="1.82"/><circle cx="145.32" cy="733.72" r="1.82"/><circle cx="144.66" cy="730.82" r="1.82"/><circle cx="146.84" cy="728.80" r="1.82"/><circle cx="149.68" cy="729.68" r="1.82"/></g><circle cx="147.5" cy="731.7" r="1.68" fill="#2e2e2e"/>
<g fill="#161616"><circle cx="425.3" cy="741.3" r="3.55"/><circle cx="428.14" cy="742.18" r="1.82"/><circle cx="425.96" cy="744.20" r="1.82"/><circle cx="423.12" cy="743.32" r="1.82"/><circle cx="422.46" cy="740.42" r="1.82"/><circle cx="424.64" cy="738.40" r="1.82"/><circle cx="427.48" cy="739.28" r="1.82"/></g><circle cx="425.3" cy="741.3" r="1.68" fill="#2e2e2e"/>
<g fill="#161616"><circle cx="425.3" cy="762.0" r="3.55"/><circle cx="428.14" cy="762.88" r="1.82"/><circle cx="425.96" cy="764.90" r="1.82"/><circle cx="423.12" cy="764.02" r="1.82"/><circle cx="422.46" cy="761.12" r="1.82"/><circle cx="424.64" cy="759.10" r="1.82"/><circle cx="427.48" cy="759.98" r="1.82"/></g><circle cx="425.3" cy="762.0" r="1.68" fill="#2e2e2e"/>
<g fill="#161616"><circle cx="454.7" cy="741.3" r="3.55"/><circle cx="457.54" cy="742.18" r="1.82"/><circle cx="455.36" cy="744.20" r="1.82"/><circle cx="452.52" cy="743.32" r="1.82"/><circle cx="451.86" cy="740.42" r="1.82"/><circle cx="454.04" cy="738.40" r="1.82"/><circle cx="456.88" cy="739.28" r="1.82"/></g><circle cx="454.7" cy="741.3" r="1.68" fill="#2e2e2e"/>
<g fill="#161616"><circle cx="454.7" cy="762.0" r="3.55"/><circle cx="457.54" cy="762.88" r="1.82"/><circle cx="455.36" cy="764.90" r="1.82"/><circle cx="452.52" cy="764.02" r="1.82"/><circle cx="451.86" cy="761.12" r="1.82"/><circle cx="454.04" cy="759.10" r="1.82"/><circle cx="456.88" cy="759.98" r="1.82"/></g><circle cx="454.7" cy="762.0" r="1.68" fill="#2e2e2e"/>
<g fill="#161616"><circle cx="587.7" cy="723.5" r="3.55"/><circle cx="590.54" cy="724.38" r="1.82"/><circle cx="588.36" cy="726.40" r="1.82"/><circle cx="585.52" cy="725.52" r="1.82"/><circle cx="584.86" cy="722.62" r="1.82"/><circle cx="587.04" cy="720.60" r="1.82"/><circle cx="589.88" cy="721.48" r="1.82"/></g><circle cx="587.7" cy="723.5" r="1.68" fill="#2e2e2e"/>
<g fill="#161616"><circle cx="587.7" cy="742.5" r="3.55"/><circle cx="590.54" cy="743.38" r="1.82"/><circle cx="588.36" cy="745.40" r="1.82"/><circle cx="585.52" cy="744.52" r="1.82"/><circle cx="584.86" cy="741.62" r="1.82"/><circle cx="587.04" cy="739.60" r="1.82"/><circle cx="589.88" cy="740.48" r="1.82"/></g><circle cx="587.7" cy="742.5" r="1.68" fill="#2e2e2e"/>
<g fill="#161616"><circle cx="610.8" cy="723.5" r="3.55"/><circle cx="613.64" cy="724.38" r="1.82"/><circle cx="611.46" cy="726.40" r="1.82"/><circle cx="608.62" cy="725.52" r="1.82"/><circle cx="607.96" cy="722.62" r="1.82"/><circle cx="610.14" cy="720.60" r="1.82"/><circle cx="612.98" cy="721.48" r="1.82"/></g><circle cx="610.8" cy="723.5" r="1.68" fill="#2e2e2e"/>
<g fill="#161616"><circle cx="610.8" cy="742.5" r="3.55"/><circle cx="613.64" cy="743.38" r="1.82"/><circle cx="611.46" cy="745.40" r="1.82"/><circle cx="608.62" cy="744.52" r="1.82"/><circle cx="607.96" cy="741.62" r="1.82"/><circle cx="610.14" cy="739.60" r="1.82"/><circle cx="612.98" cy="740.48" r="1.82"/></g><circle cx="610.8" cy="742.5" r="1.68" fill="#2e2e2e"/>
<g fill="#161616"><circle cx="668.3" cy="695.9" r="3.55"/><circle cx="671.14" cy="696.78" r="1.82"/><circle cx="668.96" cy="698.80" r="1.82"/><circle cx="666.12" cy="697.92" r="1.82"/><circle cx="665.46" cy="695.02" r="1.82"/><circle cx="667.64" cy="693.00" r="1.82"/><circle cx="670.48" cy="693.88" r="1.82"/></g><circle cx="668.3" cy="695.9" r="1.68" fill="#2e2e2e"/>
<g fill="#161616"><circle cx="668.3" cy="715.0" r="3.55"/><circle cx="671.14" cy="715.88" r="1.82"/><circle cx="668.96" cy="717.90" r="1.82"/><circle cx="666.12" cy="717.02" r="1.82"/><circle cx="665.46" cy="714.12" r="1.82"/><circle cx="667.64" cy="712.10" r="1.82"/><circle cx="670.48" cy="712.98" r="1.82"/></g><circle cx="668.3" cy="715.0" r="1.68" fill="#2e2e2e"/>
<line x1="429.0" y1="741.3" x2="451.0" y2="741.3" stroke="#333" stroke-width="1"/>
<line x1="429.0" y1="762.0" x2="451.0" y2="762.0" stroke="#333" stroke-width="1"/>
<line x1="591.0" y1="723.5" x2="607.0" y2="723.5" stroke="#333" stroke-width="1"/>
<line x1="591.0" y1="742.5" x2="607.0" y2="742.5" stroke="#333" stroke-width="1"/>
<g stroke="#3a4652" stroke-width="1.05" fill="none">
<path d="M0,226.3 H177.6 L222.7,241.7"/>
<path d="M298.5,279.5 L257,296.8"/>
<path d="M405,278.1 H578"/>
<path d="M533.6,393.6 H308 L258,412"/>
<path d="M530.4,605 H305.3 L257.7,622.5"/>
<path d="M5,601.2 H131"/>
<path d="M204.4,604 L232,614"/>
</g>
<path d="M251.9,748.2 L305.8,815.8" stroke="#5b8fa3" stroke-width="1.3" fill="none"/>
<path d="M407,858.6 H516" stroke="#5b8fa3" stroke-width="1.3" fill="none"/>
<circle cx="351.7" cy="265.4" r="54" fill="#fff" stroke="#6a8c9a" stroke-width="0.95"/>
<g clip-path="url(#c1)">
<rect x="363.3" y="275" width="16.8" height="36.6" fill="#383838"/>
<rect x="365.5" y="275" width="3" height="36.6" fill="#444"/>
<rect x="376.5" y="275" width="3.6" height="36.6" fill="#303030"/>
<path d="M362.5,277 L362.5,258 Q362.5,248 373,248 Q384,248 384,258 L384,277 Z" fill="#2f2f2f"/>
<path d="M365,262 Q366,252 371,251 L372,262 Z" fill="#555"/>
<path d="M375,262 L375,251 Q380,252 381,262 Z" fill="#4a4a4a"/>
<rect x="355" y="241.8" width="8.3" height="27.6" fill="#2a2a2a"/>
<rect x="360" y="237" width="2.2" height="8" fill="#2a2a2a"/>
<circle cx="361" cy="264.5" r="1.4" fill="#c8d84a"/>
<rect x="324.1" y="244.9" width="5.5" height="20.7" fill="#2a2a2a"/>
<rect x="321" y="253.5" width="3.5" height="2" fill="#2a2a2a"/>
<rect x="329" y="220.3" width="26.6" height="55.3" rx="3.5" fill="#363636"/>
</g>
<circle cx="169.2" cy="561.1" r="54.3" fill="#fff"/>
<g clip-path="url(#c2)">
<linearGradient id="fl2" x1="0" y1="0" x2="0" y2="1"><stop offset="0" stop-color="#fbfbfb"/><stop offset="0.6" stop-color="#f0f0f0"/><stop offset="1" stop-color="#e4e4e4"/></linearGradient>
<rect x="110" y="560" width="120" height="41.5" fill="url(#fl2)"/>
<path d="M110,589 Q165,584 230,580 L230,601.5 L110,601.5 Z" fill="#e0e0e0"/>
<ellipse cx="180" cy="596" rx="40" ry="5" fill="#c4c4c4" filter="url(#blur2)"/>
<path d="M110,558.3 Q140,557 168,555.5" stroke="#7a7a7a" stroke-width="7" fill="none"/>
<path d="M110,557.3 Q140,556 168,554.5" stroke="#c8c8c8" stroke-width="1.6" fill="none"/>
<path d="M110,560.5 Q140,559.2 168,557.7" stroke="#666" stroke-width="1.4" fill="none"/>
<path d="M200,552.2 L230,552" stroke="#a0a0a0" stroke-width="6.6" fill="none"/>
<path d="M200,551 L230,550.8" stroke="#dcdcdc" stroke-width="1.8" fill="none"/>
<path d="M110,587.5 Q160,584 230,581" stroke="#7e7e7e" stroke-width="4" fill="none"/>
<path d="M110,586.5 Q160,583 230,580" stroke="#cfcfcf" stroke-width="1.2" fill="none"/>
<rect x="161" y="556" width="6" height="27" fill="#b5b5b5"/>
<path d="M129.4,540 L136,537.5 L166,537 L166,556 L160,557.5 L130,553.5 Z" fill="#2c2c2c"/>
<path d="M133,539 L164,538.5 L160,541.5 L138,542 Z" fill="#444"/>
<rect x="131" y="541" width="4.5" height="12" rx="1.5" fill="#9a9a9a"/>
<circle cx="129.8" cy="541.5" r="0.9" fill="#c03030"/>
<rect x="150" y="535" width="20" height="3" fill="#3a3a3a"/>
<rect x="166.8" y="535" width="38.8" height="4" fill="#3a3a3a"/>
<rect x="166.8" y="538" width="27.1" height="43.5" fill="#262626"/>
<rect x="170" y="539" width="20" height="21" fill="#303030"/>
<rect x="180" y="539" width="10" height="21" fill="#2a2a2a"/>
<rect x="170" y="561" width="23" height="12" rx="1" fill="#1e1e1e"/>
<circle cx="177.8" cy="566" r="0.9" fill="#999"/><circle cx="186.9" cy="566" r="1.1" fill="#d0502a"/>
<rect x="181" y="574" width="5" height="2" fill="#cfcfcf"/><rect x="181" y="578" width="5" height="2" fill="#cfcfcf"/>
<rect x="193" y="536" width="13.8" height="19" fill="#2a2a2a"/>
<g fill="#161616"><circle cx="160.2" cy="562.5" r="2.44"/><circle cx="162.15" cy="563.10" r="1.25"/><circle cx="160.65" cy="564.50" r="1.25"/><circle cx="158.70" cy="563.89" r="1.25"/><circle cx="158.25" cy="561.90" r="1.25"/><circle cx="159.75" cy="560.50" r="1.25"/><circle cx="161.70" cy="561.11" r="1.25"/></g><circle cx="160.2" cy="562.5" r="1.15" fill="#2e2e2e"/>
<g fill="#161616"><circle cx="160.2" cy="576.4" r="2.44"/><circle cx="162.15" cy="577.00" r="1.25"/><circle cx="160.65" cy="578.40" r="1.25"/><circle cx="158.70" cy="577.79" r="1.25"/><circle cx="158.25" cy="575.80" r="1.25"/><circle cx="159.75" cy="574.40" r="1.25"/><circle cx="161.70" cy="575.01" r="1.25"/></g><circle cx="160.2" cy="576.4" r="1.15" fill="#2e2e2e"/>
<rect x="195.4" y="521.9" width="7.3" height="70" fill="#222"/>
<rect x="194.6" y="526" width="8.9" height="4" fill="#333"/>
<rect x="193" y="575" width="10.4" height="17" fill="#262626"/>
<rect x="159.5" y="582" width="11.7" height="11" fill="#262626"/>
<rect x="175" y="582" width="10" height="11" fill="#262626"/>
<path d="M150,591 L205,589.5 L207,593 L151,594.5 Z" fill="#3a3a3a"/>
<rect x="138.2" y="585.6" width="3.1" height="5.0" fill="#8c8c8c"/><path d="M133.6,595.1 Q133.6,596.0 134.7,596.0 L144.7,596.0 Q145.8,596.0 145.8,595.1 L142.4,590.2 L137.0,590.2 Z" fill="#111"/>
</g>
<circle cx="169.2" cy="561.1" r="54.3" fill="none" stroke="#4a7b8e" stroke-width="1.1"/>
<circle cx="357" cy="835.7" r="54" fill="#fff"/>
<g clip-path="url(#c3)">
<g filter="url(#blur05)">
<rect x="300" y="798.7" width="114" height="74" fill="url(#doorg)"/>
<rect x="300" y="798.7" width="114" height="24" fill="#e3f1e2"/>
<rect x="322" y="803" width="1.2" height="19" fill="#bcd9c0"/>
<rect x="326" y="803" width="1.2" height="19" fill="#bcd9c0"/>
<rect x="330" y="803" width="1.2" height="19" fill="#bcd9c0"/>
<rect x="334" y="803" width="1.2" height="19" fill="#bcd9c0"/>
<rect x="338" y="803" width="1.2" height="19" fill="#bcd9c0"/>
<rect x="342" y="803" width="1.2" height="19" fill="#bcd9c0"/>
<rect x="346" y="803" width="1.2" height="19" fill="#bcd9c0"/>
<rect x="350" y="803" width="1.2" height="19" fill="#bcd9c0"/>
<rect x="354" y="803" width="1.2" height="19" fill="#bcd9c0"/>
<rect x="358" y="803" width="1.2" height="19" fill="#bcd9c0"/>
<rect x="362" y="803" width="1.2" height="19" fill="#bcd9c0"/>
<rect x="366" y="803" width="1.2" height="19" fill="#bcd9c0"/>
<rect x="370" y="803" width="1.2" height="19" fill="#bcd9c0"/>
<rect x="374" y="803" width="1.2" height="19" fill="#bcd9c0"/>
<rect x="378" y="803" width="1.2" height="19" fill="#bcd9c0"/>
<rect x="336" y="800" width="47" height="3.5" fill="#cfe2cf"/>
<rect x="383" y="798.7" width="8" height="24" fill="#d2e6d2"/>
<rect x="391" y="798.7" width="22" height="24" fill="#dcecd8"/>
<ellipse cx="392" cy="814" rx="3" ry="2.5" fill="#304a34"/><ellipse cx="403" cy="813" rx="3.5" ry="2.5" fill="#3a5a40"/>
<path d="M311.8,823.3 L408.6,819.5 L408.6,822.5 L311.8,826.3 Z" fill="#a9b49c"/>
<rect x="337" y="820" width="2.5" height="16" fill="#7c8c78"/>
<rect x="300" y="826" width="114" height="47" fill="#a9d6b6"/>
<rect x="300" y="850" width="114" height="23" fill="#93cca6"/>
<rect x="317.7" y="826" width="2.5" height="47" fill="#d2ecda"/>
<rect x="330.0" y="826" width="1.5" height="47" fill="#d2ecda"/>
<rect x="343.0" y="826" width="1.5" height="47" fill="#d2ecda"/>
<rect x="354.3" y="826" width="2.5" height="47" fill="#d2ecda"/>
<rect x="366.0" y="826" width="2.0" height="47" fill="#d2ecda"/>
<path d="M306,849.5 L341,839.5 L341.5,842 L306.5,852.5 Z" fill="#5e8c6c"/>
<path d="M300,858 L345,846 L345.5,848 L300,861 Z" fill="#cfe8d6"/>
<rect x="374.8" y="838" width="38" height="35" fill="#9cc9ac"/>
<path d="M374.8,836 L413,839 L413,845 L374.8,841 Z" fill="#d3dcc6"/>
<rect x="374.8" y="840" width="7.4" height="33" fill="#56604e"/>
<rect x="376" y="840" width="2.5" height="33" fill="#6e7a66"/>
<path d="M300,798.7 L318,798.7 Q322,806 320,813 Q316,821 310,824 L300,826 Z" fill="#23896a"/>
<path d="M300,818 L312,818 L313,831 L300,833 Z" fill="#6b5a3a"/>
<path d="M300,836 L312,837 L313,843 L300,843 Z" fill="#3c9cc8"/>
</g>
</g>
<circle cx="357" cy="835.7" r="54" fill="none" stroke="#5b8fa3" stroke-width="1.2"/>
<g fill="none" stroke="#7a7a7a" stroke-width="0.9"><circle cx="248.9" cy="745" r="3.4"/><path d="M245.5,745 H262"/><path d="M263.5,741.8 A3.4,3.4 0 1 0 263.5,748.2"/></g>
<g fill="#2b5a6d" stroke="#2b5a6d" stroke-width="0.15">
<text x="33.00" y="203.00" font-size="18.30" textLength="137.10" lengthAdjust="spacing">Multiple Lighting</text>
<text x="72.00" y="220.20" font-size="18.30" textLength="64.10" lengthAdjust="spacing">Options</text>
<text x="437.50" y="248.80" font-size="18.30" textLength="115.60" lengthAdjust="spacing">iPad/Camera/</text>
<text x="410.50" y="273.60" font-size="18.30" textLength="169.58" lengthAdjust="spacing">Mobile Phone Stand</text>
<text x="318.00" y="388.80" font-size="18.30" textLength="207.10" lengthAdjust="spacing">Freely Adjustable Height</text>
<text x="317.50" y="599.30" font-size="18.30" textLength="201.60" lengthAdjust="spacing">Freely Adjustable Angle</text>
<text x="35.50" y="620.50" font-size="18.30" textLength="102.60" lengthAdjust="spacing">High Quality</text>
<text x="23.50" y="637.60" font-size="18.30" textLength="133.09" lengthAdjust="spacing">Rotary Machine</text>
<text x="415.00" y="854.30" font-size="18.30" textLength="102.60" lengthAdjust="spacing">Switch Door</text>
</g>
</svg></body></html>
